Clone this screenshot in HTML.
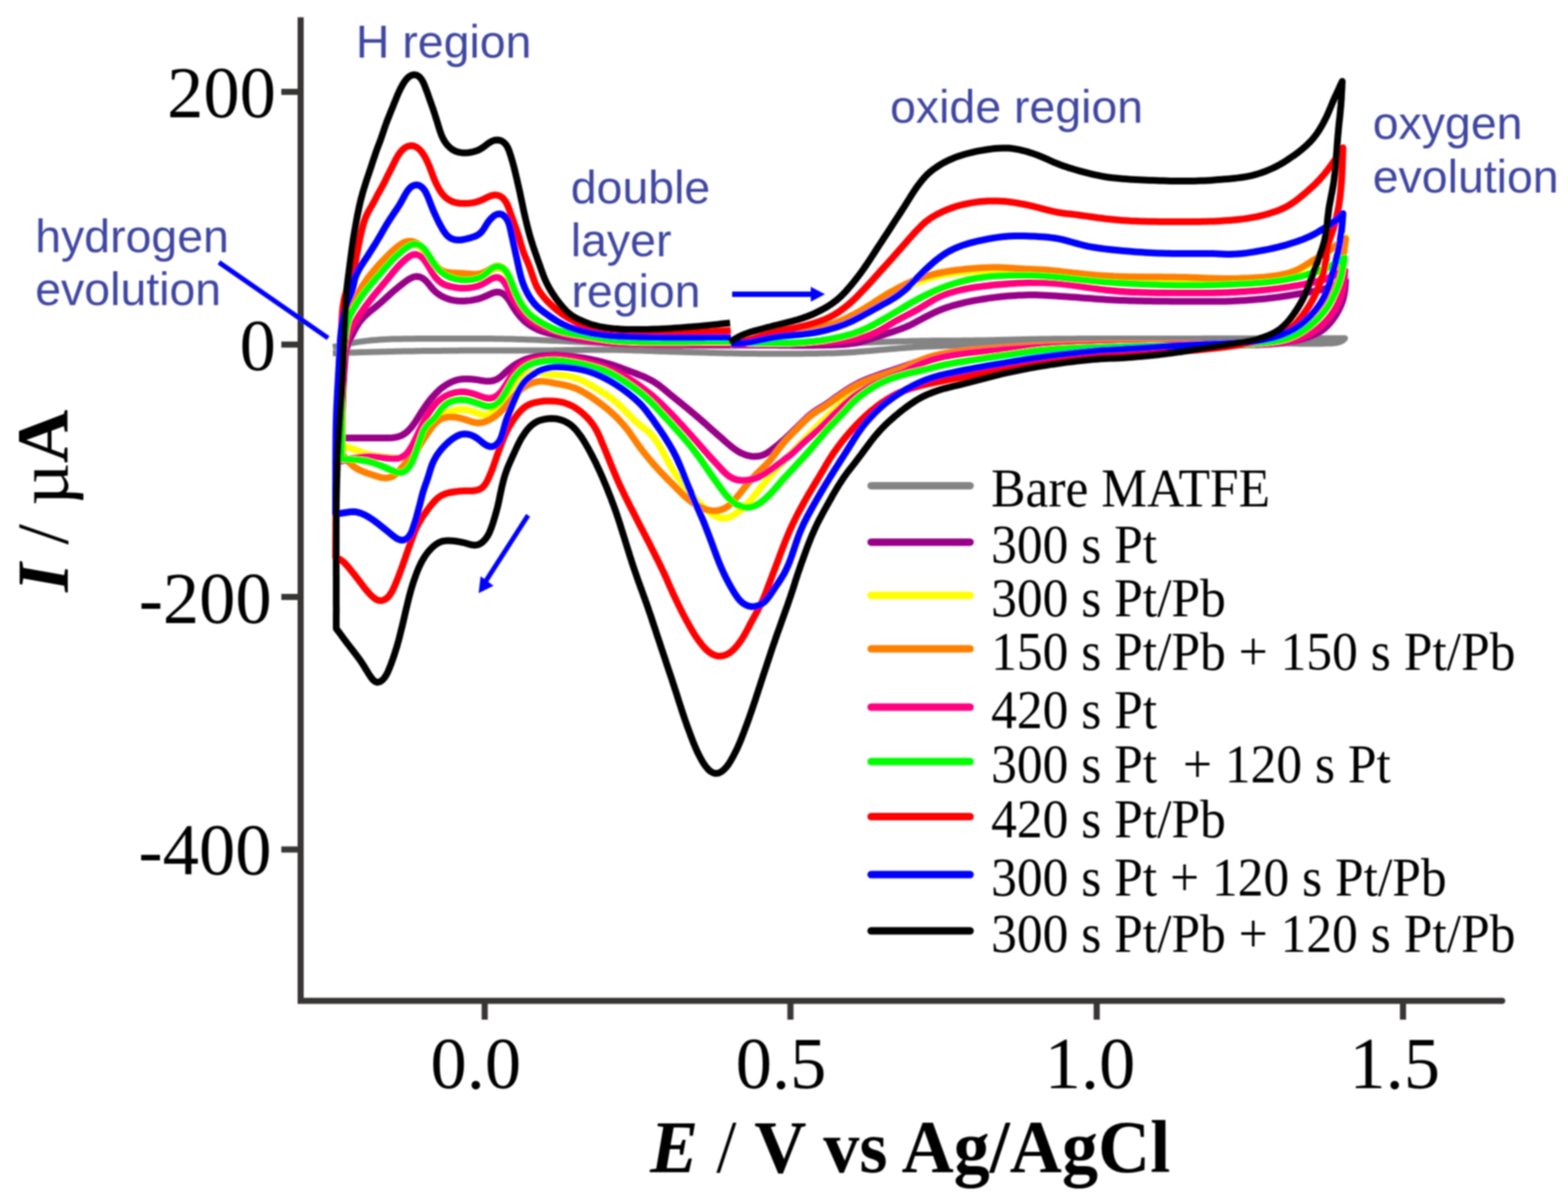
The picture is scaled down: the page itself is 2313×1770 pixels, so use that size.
<!DOCTYPE html>
<html><head><meta charset="utf-8"><title>CV</title>
<style>
html,body{margin:0;padding:0;background:#fff;}
body{width:2313px;height:1770px;overflow:hidden;position:relative;}
svg{position:absolute;left:0;top:0;}
.tk{font-family:"Liberation Serif","Times New Roman",serif;font-size:107px;fill:#000;}
.lg{font-family:"Liberation Serif","Times New Roman",serif;font-size:76px;fill:#000;}
.an{font-family:"Liberation Sans",Arial,sans-serif;font-size:68.5px;fill:#3f47a1;}
.ti{font-family:"Liberation Serif","Times New Roman",serif;font-size:109px;font-weight:bold;fill:#000;}
</style></head><body>
<svg width="2313" height="1770" viewBox="0 0 2313 1770" xmlns="http://www.w3.org/2000/svg">
<defs><filter id="bl"><feGaussianBlur stdDeviation="0.9"/></filter></defs>
<rect width="2313" height="1770" fill="#fff"/>
<g filter="url(#bl)">
<g stroke="#393536" stroke-width="9" fill="none">
<path d="M443.5,25.5 L443.5,1476.3 L2216,1476.3" stroke-linejoin="miter"/>
<circle cx="2216" cy="1476.3" r="4.5" fill="#393536" stroke="none"/>
<path d="M415,135.5 H443 M415,508.2 H443 M415,880.6 H443 M415,1253 H443"/>
<path d="M715,1476 V1504 M1166,1476 V1504 M1617.8,1476 V1504 M2069.6,1476 V1504"/>
</g>
<text class="tk" x="407" y="173" text-anchor="end">200</text>
<text class="tk" x="407" y="546" text-anchor="end">0</text>
<text class="tk" x="400.8" y="918.5" text-anchor="end">-200</text>
<text class="tk" x="400.5" y="1289.5" text-anchor="end">-400</text>
<text class="tk" x="701.8" y="1605" text-anchor="middle">0.0</text>
<text class="tk" x="1152" y="1605" text-anchor="middle">0.5</text>
<text class="tk" x="1607.8" y="1605" text-anchor="middle">1.0</text>
<text class="tk" x="2057.4" y="1605" text-anchor="middle">1.5</text>
<text class="ti" style="font-size:106.5px" transform="translate(959,1729) scale(1,1.035)"><tspan font-style="italic">E</tspan><tspan font-weight="normal"> / </tspan>V vs Ag/AgCl</text>
<text class="ti" transform="translate(100,873) rotate(-90)"><tspan font-style="italic">I</tspan><tspan font-weight="normal"> / &#181;</tspan>A</text>
<path d="M491.0,512.0 L495.9,510.9 L500.7,509.7 L505.6,508.6 L510.5,507.5 L515.4,506.6 L520.3,505.7 L525.3,504.9 L530.2,504.1 L535.2,503.5 L540.1,502.9 L545.1,502.3 L550.1,501.8 L555.1,501.4 L560.0,501.1 L565.0,500.8 L570.0,500.5 L575.0,500.3 L580.0,500.1 L585.0,500.0 L590.0,499.9 L595.0,499.8 L600.0,499.7 L605.0,499.7 L610.0,499.7 L615.0,499.6 L620.0,499.6 L625.0,499.6 L630.0,499.6 L635.0,499.6 L640.0,499.5 L645.0,499.5 L650.0,499.5 L655.0,499.5 L660.0,499.4 L665.0,499.4 L670.0,499.4 L675.0,499.4 L680.0,499.4 L685.0,499.4 L690.0,499.4 L695.0,499.4 L700.0,499.4 L705.0,499.4 L710.0,499.5 L715.0,499.5 L720.0,499.5 L725.0,499.6 L730.1,499.7 L735.1,499.7 L740.1,499.8 L745.1,499.9 L750.1,500.0 L755.1,500.1 L760.1,500.3 L765.0,500.4 L770.0,500.6 L775.0,500.7 L780.0,500.9 L785.0,501.1 L790.0,501.3 L795.0,501.5 L800.0,501.7 L805.0,501.9 L810.0,502.2 L815.0,502.4 L820.0,502.6 L825.0,502.8 L830.0,503.1 L835.0,503.3 L840.0,503.5 L845.0,503.8 L850.0,504.0 L855.0,504.2 L860.0,504.5 L865.0,504.7 L870.0,505.0 L875.0,505.3 L880.0,505.6 L885.0,505.8 L889.9,506.1 L894.9,506.4 L899.9,506.7 L904.9,507.0 L909.9,507.2 L914.9,507.5 L919.9,507.7 L924.9,508.0 L929.9,508.2 L934.9,508.4 L939.9,508.6 L944.9,508.8 L949.9,509.0 L954.9,509.1 L959.9,509.3 L964.9,509.4 L969.9,509.5 L974.9,509.6 L979.9,509.6 L984.9,509.7 L989.9,509.8 L994.9,509.8 L999.9,509.9 L1004.9,509.9 L1009.9,509.9 L1014.9,510.0 L1019.9,510.0 L1024.9,510.0 L1029.9,510.0 L1034.9,510.0 L1039.9,510.0 L1044.9,510.0 L1049.9,510.0 L1054.9,510.0 L1059.9,510.0 L1064.9,510.0 L1069.9,510.0 L1074.9,509.9 L1079.9,509.9 L1084.9,509.9 L1089.9,509.8 L1094.9,509.8 L1099.9,509.7 L1104.9,509.7 L1109.9,509.6 L1114.9,509.6 L1119.9,509.5 L1124.9,509.4 L1129.9,509.4 L1134.9,509.3 L1139.9,509.2 L1144.9,509.1 L1149.9,509.0 L1154.9,508.9 L1159.9,508.8 L1164.9,508.7 L1169.9,508.5 L1174.9,508.4 L1179.9,508.2 L1184.9,508.1 L1189.9,507.9 L1194.9,507.8 L1199.9,507.6 L1204.9,507.5 L1209.9,507.3 L1214.9,507.1 L1219.9,507.0 L1224.9,506.8 L1229.9,506.6 L1234.9,506.5 L1239.9,506.3 L1244.9,506.2 L1249.9,506.0 L1254.9,505.8 L1259.9,505.7 L1264.9,505.5 L1269.9,505.4 L1274.9,505.2 L1279.9,505.0 L1284.9,504.9 L1289.9,504.7 L1294.9,504.5 L1299.9,504.4 L1304.9,504.2 L1309.9,504.1 L1314.9,503.9 L1319.9,503.8 L1324.9,503.6 L1329.9,503.5 L1334.9,503.4 L1339.9,503.2 L1344.9,503.1 L1349.9,503.0 L1354.9,502.9 L1359.9,502.8 L1364.9,502.8 L1369.9,502.7 L1374.9,502.6 L1379.9,502.6 L1384.9,502.6 L1389.9,502.5 L1394.9,502.5 L1399.9,502.4 L1404.9,502.4 L1409.9,502.4 L1414.9,502.4 L1419.9,502.3 L1424.9,502.3 L1429.9,502.2 L1434.9,502.2 L1439.9,502.1 L1444.9,502.1 L1449.9,502.0 L1454.9,501.9 L1459.9,501.8 L1464.9,501.7 L1469.9,501.6 L1474.9,501.5 L1479.9,501.3 L1484.9,501.2 L1489.9,501.1 L1494.9,500.9 L1499.9,500.8 L1504.9,500.7 L1509.9,500.6 L1514.9,500.5 L1519.9,500.3 L1524.9,500.2 L1529.9,500.2 L1534.9,500.1 L1539.9,500.0 L1544.9,499.9 L1549.9,499.9 L1554.9,499.8 L1559.9,499.8 L1564.9,499.8 L1569.9,499.7 L1574.9,499.7 L1579.9,499.7 L1584.9,499.7 L1589.9,499.6 L1594.9,499.6 L1599.9,499.6 L1604.9,499.6 L1609.9,499.6 L1614.9,499.6 L1619.9,499.6 L1624.9,499.6 L1629.9,499.6 L1634.9,499.6 L1639.9,499.6 L1644.9,499.6 L1649.9,499.6 L1654.9,499.6 L1659.9,499.6 L1664.9,499.6 L1669.9,499.5 L1674.9,499.5 L1679.9,499.5 L1684.9,499.5 L1689.9,499.5 L1694.9,499.5 L1699.9,499.5 L1704.9,499.5 L1709.9,499.5 L1714.9,499.5 L1719.9,499.5 L1724.9,499.4 L1729.9,499.4 L1734.9,499.4 L1739.9,499.4 L1744.9,499.4 L1749.9,499.4 L1754.9,499.4 L1759.9,499.4 L1764.9,499.4 L1769.9,499.4 L1775.0,499.3 L1780.0,499.3 L1785.0,499.3 L1790.0,499.3 L1795.0,499.3 L1800.0,499.3 L1805.0,499.3 L1810.0,499.3 L1815.0,499.3 L1820.0,499.3 L1825.0,499.3 L1830.0,499.2 L1835.0,499.2 L1840.0,499.2 L1845.0,499.2 L1850.0,499.2 L1855.0,499.2 L1860.0,499.2 L1865.0,499.2 L1870.0,499.2 L1875.0,499.2 L1880.0,499.2 L1885.0,499.2 L1890.0,499.2 L1895.0,499.1 L1900.0,499.1 L1905.0,499.1 L1910.0,499.1 L1915.0,499.1 L1920.0,499.1 L1925.0,499.1 L1930.0,499.1 L1935.0,499.1 L1940.0,499.1 L1945.0,499.1 L1950.0,499.1 L1955.0,499.0 L1960.0,499.0 L1965.0,499.0 L1970.0,499.0 L1975.0,499.0 L1980.0,499.0 L1984.0,499.0 L1981.2,501.9 L1977.7,504.0 L1973.4,505.3 L1968.5,506.0 L1963.6,506.4 L1958.6,506.6 L1953.6,506.8 L1948.6,506.9 L1943.6,507.0 L1938.6,507.0 L1933.6,507.0 L1928.6,507.0 L1923.6,506.9 L1918.6,506.9 L1913.6,506.8 L1908.6,506.7 L1903.6,506.6 L1898.6,506.5 L1893.6,506.4 L1888.6,506.3 L1883.6,506.2 L1878.6,506.1 L1873.6,506.0 L1868.6,505.9 L1863.6,505.8 L1858.6,505.7 L1853.6,505.6 L1848.6,505.5 L1843.6,505.4 L1838.6,505.3 L1833.6,505.2 L1828.6,505.1 L1823.6,505.1 L1818.6,505.0 L1813.6,505.0 L1808.6,505.0 L1803.6,505.0 L1798.6,505.0 L1793.6,505.0 L1788.6,505.1 L1783.6,505.1 L1778.6,505.1 L1773.6,505.1 L1768.6,505.2 L1763.6,505.2 L1758.6,505.2 L1753.6,505.2 L1748.6,505.2 L1743.6,505.2 L1738.6,505.2 L1733.6,505.2 L1728.6,505.2 L1723.6,505.2 L1718.6,505.2 L1713.6,505.3 L1708.6,505.3 L1703.6,505.3 L1698.6,505.3 L1693.6,505.3 L1688.6,505.3 L1683.6,505.3 L1678.6,505.3 L1673.6,505.3 L1668.6,505.3 L1663.6,505.3 L1658.6,505.3 L1653.6,505.3 L1648.6,505.3 L1643.6,505.3 L1638.6,505.3 L1633.6,505.3 L1628.6,505.3 L1623.6,505.3 L1618.6,505.3 L1613.6,505.4 L1608.6,505.4 L1603.6,505.4 L1598.6,505.4 L1593.6,505.4 L1588.6,505.5 L1583.6,505.5 L1578.6,505.5 L1573.6,505.6 L1568.6,505.6 L1563.6,505.7 L1558.6,505.7 L1553.6,505.8 L1548.6,505.9 L1543.6,505.9 L1538.6,506.0 L1533.6,506.1 L1528.6,506.3 L1523.6,506.4 L1518.6,506.5 L1513.6,506.7 L1508.6,506.8 L1503.6,507.0 L1498.6,507.2 L1493.6,507.4 L1488.6,507.6 L1483.6,507.8 L1478.6,508.0 L1473.6,508.2 L1468.6,508.4 L1463.6,508.6 L1458.6,508.7 L1453.6,508.9 L1448.6,509.0 L1443.6,509.1 L1438.6,509.2 L1433.6,509.3 L1428.6,509.4 L1423.6,509.5 L1418.6,509.6 L1413.6,509.7 L1408.6,509.8 L1403.6,509.9 L1398.6,510.1 L1393.6,510.2 L1388.6,510.4 L1383.6,510.5 L1378.6,510.7 L1373.6,510.9 L1368.6,511.1 L1363.6,511.3 L1358.6,511.5 L1353.6,511.8 L1348.6,512.1 L1343.7,512.4 L1338.7,512.8 L1333.7,513.2 L1328.7,513.6 L1323.7,514.0 L1318.7,514.4 L1313.7,514.8 L1308.8,515.3 L1303.8,515.7 L1298.8,516.1 L1293.8,516.5 L1288.8,516.9 L1283.9,517.4 L1278.9,517.8 L1273.9,518.2 L1268.9,518.6 L1263.9,519.0 L1258.9,519.4 L1253.9,519.7 L1248.9,520.0 L1244.0,520.3 L1239.0,520.5 L1234.0,520.7 L1229.0,520.9 L1224.0,521.0 L1219.0,521.1 L1214.0,521.3 L1209.0,521.3 L1204.0,521.4 L1199.0,521.5 L1194.0,521.6 L1189.0,521.6 L1184.0,521.7 L1179.0,521.7 L1174.0,521.7 L1169.0,521.8 L1164.0,521.8 L1159.0,521.8 L1154.0,521.8 L1149.0,521.8 L1144.0,521.8 L1139.0,521.8 L1134.0,521.8 L1129.0,521.7 L1124.0,521.7 L1119.0,521.7 L1114.0,521.6 L1109.0,521.6 L1104.0,521.5 L1099.0,521.5 L1094.0,521.4 L1089.0,521.3 L1084.0,521.2 L1079.0,521.1 L1074.0,521.0 L1069.0,520.9 L1064.0,520.8 L1059.0,520.7 L1054.0,520.5 L1049.0,520.4 L1044.0,520.3 L1039.0,520.1 L1034.0,520.0 L1029.0,519.8 L1024.0,519.7 L1019.0,519.5 L1014.0,519.4 L1009.0,519.3 L1004.0,519.1 L999.0,519.0 L994.0,518.8 L989.0,518.7 L984.0,518.5 L979.0,518.3 L974.0,518.2 L969.0,518.0 L964.0,517.8 L959.0,517.6 L954.0,517.4 L949.0,517.3 L944.0,517.1 L939.0,516.9 L934.0,516.8 L929.0,516.6 L924.0,516.5 L919.0,516.3 L914.0,516.2 L909.0,516.1 L904.0,516.1 L899.0,516.0 L894.0,516.0 L889.0,516.0 L884.0,516.0 L879.0,516.0 L874.0,516.0 L869.0,516.1 L864.0,516.1 L859.0,516.2 L854.0,516.3 L849.0,516.3 L844.0,516.4 L839.0,516.5 L834.0,516.6 L829.0,516.7 L824.0,516.7 L819.0,516.8 L814.0,516.9 L809.0,516.9 L804.0,517.0 L799.0,517.0 L794.0,517.0 L789.0,517.0 L784.0,517.0 L779.0,517.0 L774.0,517.0 L769.0,517.0 L764.0,517.0 L759.0,517.0 L754.0,517.0 L749.0,517.0 L744.0,517.0 L739.0,517.0 L734.0,517.0 L729.0,517.0 L724.0,517.0 L719.0,517.0 L714.0,517.0 L709.0,517.0 L704.0,517.0 L699.0,517.0 L694.0,517.0 L689.0,517.1 L684.0,517.1 L679.0,517.1 L674.0,517.2 L669.0,517.2 L664.0,517.2 L659.0,517.3 L654.0,517.3 L649.0,517.4 L644.0,517.4 L639.0,517.5 L634.0,517.5 L629.0,517.6 L624.0,517.6 L619.0,517.7 L614.0,517.8 L609.0,517.9 L604.0,517.9 L599.0,518.0 L594.0,518.1 L589.0,518.2 L584.0,518.3 L579.0,518.4 L574.0,518.5 L569.0,518.7 L564.0,518.8 L559.0,518.9 L554.0,519.0 L549.0,519.2 L544.0,519.3 L539.0,519.5 L534.0,519.6 L529.0,519.7 L524.0,519.9 L519.0,520.0 L514.0,520.2 L509.0,520.4 L504.0,520.5 L499.0,520.7 L494.0,520.9 L491.0,521.0" fill="none" stroke="#848484" stroke-width="9" stroke-linejoin="round" stroke-linecap="butt"/>
<path d="M1080.0,509.0 L1085.0,508.9 L1090.0,508.9 L1095.0,508.9 L1100.0,508.9 L1105.0,508.8 L1110.0,508.9 L1115.0,508.9 L1120.0,508.9 L1125.0,508.9 L1130.0,509.0 L1135.0,509.0 L1140.0,509.1 L1145.0,509.1 L1150.0,509.2 L1155.0,509.2 L1160.0,509.3 L1165.0,509.3 L1170.0,509.4 L1175.0,509.4 L1180.0,509.4 L1185.0,509.4 L1190.1,509.4 L1195.1,509.4 L1200.1,509.4 L1205.1,509.3 L1210.1,509.3 L1215.1,509.2 L1220.1,509.1 L1225.1,508.9 L1230.1,508.7 L1235.1,508.5 L1240.1,508.2 L1245.0,507.9 L1250.0,507.5 L1255.0,506.9 L1260.0,506.3 L1264.9,505.5 L1269.8,504.6 L1274.7,503.4 L1279.5,502.1 L1284.2,500.6 L1289.0,498.9 L1293.7,497.2 L1298.4,495.5 L1303.1,493.9 L1307.8,492.3 L1312.6,490.7 L1317.3,489.2 L1322.1,487.6 L1326.8,485.9 L1331.5,484.2 L1336.1,482.4 L1340.7,480.4 L1345.2,478.2 L1349.6,475.9 L1354.0,473.5 L1358.4,471.1 L1362.8,468.8 L1367.3,466.5 L1371.7,464.2 L1376.2,462.0 L1380.7,459.9 L1385.3,457.9 L1390.0,456.0 L1394.7,454.3 L1399.4,452.7 L1404.2,451.2 L1409.0,449.9 L1413.8,448.6 L1418.7,447.4 L1423.5,446.2 L1428.4,445.2 L1433.3,444.2 L1438.2,443.2 L1443.2,442.3 L1448.1,441.5 L1453.0,440.7 L1458.0,439.9 L1462.9,439.3 L1467.9,438.6 L1472.9,438.0 L1477.8,437.5 L1482.8,437.0 L1487.8,436.6 L1492.8,436.2 L1497.8,435.9 L1502.8,435.6 L1507.8,435.4 L1512.8,435.2 L1517.8,435.1 L1522.8,435.1 L1527.8,435.1 L1532.8,435.2 L1537.8,435.4 L1542.8,435.7 L1547.8,436.0 L1552.8,436.3 L1557.7,436.6 L1562.7,436.9 L1567.7,437.2 L1572.7,437.5 L1577.7,437.9 L1582.7,438.2 L1587.7,438.6 L1592.7,439.0 L1597.7,439.4 L1602.7,439.8 L1607.6,440.1 L1612.6,440.5 L1617.6,440.9 L1622.6,441.2 L1627.6,441.5 L1632.6,441.9 L1637.6,442.2 L1642.6,442.4 L1647.6,442.7 L1652.6,442.9 L1657.6,443.1 L1662.6,443.3 L1667.6,443.4 L1672.6,443.6 L1677.6,443.7 L1682.6,443.8 L1687.6,443.9 L1692.6,444.0 L1697.6,444.1 L1702.6,444.2 L1707.6,444.2 L1712.6,444.3 L1717.6,444.3 L1722.6,444.3 L1727.6,444.4 L1732.6,444.4 L1737.6,444.4 L1742.6,444.4 L1747.6,444.5 L1752.6,444.5 L1757.6,444.5 L1762.6,444.5 L1767.6,444.5 L1772.6,444.5 L1777.6,444.5 L1782.6,444.6 L1787.6,444.6 L1792.6,444.6 L1797.6,444.5 L1802.6,444.5 L1807.6,444.4 L1812.6,444.2 L1817.6,444.1 L1822.6,443.8 L1827.6,443.6 L1832.6,443.3 L1837.6,442.9 L1842.6,442.6 L1847.6,442.2 L1852.6,441.8 L1857.5,441.3 L1862.5,440.9 L1867.5,440.4 L1872.5,439.8 L1877.4,439.3 L1882.4,438.6 L1887.4,438.0 L1892.3,437.3 L1897.3,436.5 L1902.2,435.7 L1907.1,434.9 L1912.1,434.0 L1917.0,433.2 L1921.9,432.4 L1926.9,431.6 L1931.8,430.7 L1936.7,429.9 L1941.6,429.0 L1946.5,428.0 L1951.4,426.8 L1956.2,425.4 L1960.9,423.8 L1965.6,422.1 L1970.3,420.2 L1974.9,418.3 L1979.5,416.3 L1984.1,414.4 L1985.0,414.0 L1984.6,419.0 L1984.2,424.0 L1983.7,428.9 L1982.9,433.9 L1981.9,438.7 L1980.6,443.5 L1978.9,448.2 L1977.0,452.8 L1974.8,457.3 L1972.4,461.7 L1969.8,465.9 L1967.0,470.0 L1963.9,474.0 L1960.7,477.8 L1957.2,481.4 L1953.6,484.7 L1949.6,487.8 L1945.5,490.5 L1941.1,492.9 L1936.6,495.0 L1932.0,496.9 L1927.3,498.6 L1922.5,500.1 L1917.7,501.4 L1912.9,502.6 L1908.0,503.6 L1903.0,504.4 L1898.1,505.1 L1893.1,505.7 L1888.2,506.2 L1883.2,506.7 L1878.2,507.1 L1873.2,507.5 L1868.2,507.8 L1863.2,508.0 L1858.2,508.2 L1853.2,508.4 L1848.2,508.5 L1843.2,508.6 L1838.2,508.7 L1833.2,508.8 L1828.2,508.9 L1823.2,508.9 L1818.2,509.0 L1813.2,509.1 L1808.2,509.1 L1803.2,509.2 L1798.2,509.2 L1793.2,509.2 L1788.2,509.3 L1783.2,509.3 L1778.2,509.3 L1773.2,509.3 L1768.2,509.3 L1763.2,509.3 L1758.2,509.2 L1753.2,509.2 L1748.2,509.2 L1743.2,509.2 L1738.2,509.2 L1733.2,509.1 L1728.2,509.1 L1723.2,509.1 L1718.2,509.1 L1713.2,509.1 L1708.2,509.0 L1703.2,509.0 L1698.2,509.0 L1693.2,509.0 L1688.2,508.9 L1683.2,508.9 L1678.2,508.8 L1673.2,508.7 L1668.2,508.6 L1663.2,508.6 L1658.2,508.5 L1653.2,508.4 L1648.2,508.4 L1643.2,508.4 L1638.2,508.4 L1633.2,508.4 L1628.2,508.4 L1623.2,508.5 L1618.2,508.5 L1613.2,508.6 L1608.2,508.7 L1603.2,508.9 L1598.2,509.0 L1593.2,509.1 L1588.2,509.2 L1583.2,509.4 L1578.2,509.5 L1573.2,509.7 L1568.2,509.9 L1563.2,510.0 L1558.2,510.2 L1553.2,510.4 L1548.2,510.6 L1543.2,510.9 L1538.2,511.1 L1533.3,511.3 L1528.3,511.6 L1523.3,511.8 L1518.3,512.1 L1513.3,512.4 L1508.3,512.7 L1503.3,513.0 L1498.3,513.3 L1493.3,513.7 L1488.3,514.1 L1483.3,514.4 L1478.4,514.8 L1473.4,515.2 L1468.4,515.6 L1463.4,516.0 L1458.4,516.4 L1453.4,516.8 L1448.4,517.2 L1443.5,517.6 L1438.5,518.1 L1433.5,518.6 L1428.5,519.1 L1423.6,519.6 L1418.6,520.2 L1413.6,520.7 L1408.7,521.4 L1403.7,522.0 L1398.8,522.8 L1393.8,523.5 L1388.9,524.4 L1384.0,525.3 L1379.1,526.3 L1374.2,527.4 L1369.4,528.6 L1364.5,530.0 L1359.8,531.4 L1355.0,532.9 L1350.3,534.5 L1345.5,536.2 L1340.8,537.8 L1336.1,539.5 L1331.4,541.1 L1326.7,542.8 L1321.9,544.3 L1317.2,545.9 L1312.4,547.5 L1307.7,549.0 L1302.9,550.6 L1298.2,552.2 L1293.5,553.9 L1288.8,555.6 L1284.1,557.3 L1279.4,559.2 L1274.8,561.1 L1270.3,563.1 L1265.8,565.3 L1261.3,567.6 L1257.0,570.0 L1252.7,572.6 L1248.5,575.3 L1244.3,578.1 L1240.2,580.9 L1236.1,583.8 L1232.0,586.7 L1228.0,589.6 L1223.9,592.5 L1219.8,595.3 L1215.6,598.1 L1211.3,600.7 L1207.1,603.3 L1202.9,606.0 L1198.8,608.8 L1194.9,611.9 L1191.1,615.2 L1187.5,618.6 L1183.9,622.1 L1180.4,625.7 L1176.8,629.2 L1173.2,632.7 L1169.6,636.2 L1166.0,639.6 L1162.4,643.1 L1158.8,646.5 L1155.0,649.8 L1151.3,653.1 L1147.4,656.3 L1143.5,659.4 L1139.6,662.5 L1135.6,665.5 L1131.5,668.3 L1127.1,670.5 L1122.5,672.1 L1117.7,673.1 L1112.8,673.3 L1107.9,672.9 L1103.1,671.9 L1098.4,670.4 L1093.8,668.5 L1089.4,666.2 L1085.2,663.6 L1081.2,660.6 L1077.3,657.5 L1073.5,654.3 L1069.7,651.0 L1066.0,647.6 L1062.2,644.3 L1058.5,641.1 L1054.7,637.7 L1051.0,634.4 L1047.2,631.1 L1043.5,627.8 L1039.8,624.4 L1036.0,621.1 L1032.2,617.8 L1028.5,614.6 L1024.6,611.3 L1020.8,608.1 L1017.0,604.9 L1013.1,601.7 L1009.3,598.6 L1005.4,595.4 L1001.5,592.2 L997.6,589.1 L993.7,585.9 L989.9,582.8 L986.0,579.6 L982.2,576.4 L978.3,573.2 L974.4,570.1 L970.4,567.1 L966.3,564.3 L962.0,561.7 L957.6,559.4 L953.1,557.2 L948.5,555.2 L943.9,553.3 L939.3,551.5 L934.6,549.7 L929.9,547.9 L925.2,546.1 L920.6,544.4 L915.9,542.6 L911.2,541.0 L906.4,539.3 L901.7,537.8 L896.9,536.4 L892.1,535.0 L887.2,533.7 L882.4,532.5 L877.5,531.4 L872.6,530.4 L867.7,529.4 L862.8,528.5 L857.9,527.7 L852.9,526.9 L848.0,526.2 L843.0,525.6 L838.1,525.0 L833.1,524.5 L828.1,524.1 L823.1,523.8 L818.1,523.6 L813.1,523.7 L808.1,523.9 L803.2,524.3 L798.2,524.8 L793.3,525.5 L788.3,526.4 L783.5,527.6 L778.7,529.0 L774.0,530.6 L769.4,532.6 L765.0,534.9 L760.7,537.4 L756.6,540.2 L752.6,543.2 L748.8,546.4 L745.1,549.8 L741.5,553.2 L737.7,556.4 L733.7,559.1 L729.3,561.0 L724.6,562.0 L719.7,562.3 L714.8,561.9 L709.8,561.2 L704.9,560.4 L700.0,559.8 L695.0,559.3 L690.0,559.0 L685.1,559.0 L680.1,559.3 L675.3,560.2 L670.5,561.6 L665.9,563.5 L661.5,565.7 L657.2,568.3 L653.1,571.1 L649.2,574.2 L645.6,577.6 L642.1,581.1 L638.7,584.8 L635.4,588.6 L632.3,592.5 L629.3,596.5 L626.5,600.6 L623.7,604.7 L621.0,609.0 L618.4,613.2 L615.7,617.5 L613.0,621.7 L610.2,625.8 L607.2,629.8 L603.9,633.5 L600.4,637.0 L596.5,640.0 L592.3,642.3 L587.7,644.1 L582.9,645.2 L578.0,645.8 L573.0,646.1 L568.0,646.1 L563.0,646.1 L558.0,646.1 L553.0,646.0 L548.0,646.0 L543.0,646.1 L538.0,646.1 L533.0,646.1 L528.0,646.1 L523.0,646.1 L518.0,646.0 L513.0,646.0 L508.0,646.0 L504.0,646.0 L504.2,641.0 L504.3,636.0 L504.5,631.0 L504.6,626.0 L504.7,621.0 L504.9,616.0 L505.0,611.0 L505.1,606.0 L505.3,601.0 L505.4,596.0 L505.6,591.0 L505.8,586.0 L505.9,581.0 L506.2,576.0 L506.4,571.0 L506.7,566.0 L506.9,561.0 L507.2,556.0 L507.5,551.0 L507.9,546.0 L508.2,541.1 L508.5,536.1 L508.9,531.1 L509.4,526.1 L510.1,521.2 L510.9,516.2 L512.1,511.4 L513.6,506.7 L515.4,502.1 L517.6,497.6 L519.9,493.1 L522.2,488.7 L524.6,484.3 L527.1,480.0 L529.8,475.8 L532.8,471.9 L536.1,468.2 L539.7,464.7 L543.4,461.4 L547.3,458.2 L551.2,455.1 L555.1,451.9 L558.9,448.7 L562.7,445.5 L566.4,442.1 L570.1,438.7 L573.8,435.4 L577.5,432.0 L581.3,428.8 L585.2,425.6 L589.0,422.4 L593.0,419.3 L596.9,416.2 L600.9,413.3 L605.1,410.7 L609.5,408.7 L614.0,407.8 L618.5,408.2 L622.8,410.0 L626.7,412.8 L630.1,416.2 L633.3,420.0 L636.3,423.9 L639.6,427.7 L643.2,431.1 L647.1,434.1 L651.3,436.7 L655.7,438.9 L660.4,440.7 L665.1,442.1 L670.0,443.1 L674.9,443.7 L679.9,443.9 L684.9,443.9 L689.9,443.6 L694.8,443.1 L699.7,442.2 L704.6,441.1 L709.4,439.7 L714.0,437.9 L718.6,435.9 L723.1,433.8 L727.6,431.9 L732.1,430.8 L736.6,431.0 L740.8,432.5 L744.6,435.3 L747.9,438.8 L750.9,442.8 L753.5,447.0 L756.1,451.3 L758.7,455.5 L761.5,459.7 L764.5,463.6 L767.7,467.5 L771.1,471.1 L774.7,474.6 L778.6,477.7 L782.7,480.5 L786.9,483.1 L791.4,485.3 L796.0,487.3 L800.6,489.0 L805.4,490.5 L810.2,491.8 L815.1,493.0 L820.0,494.1 L824.8,495.2 L829.7,496.3 L834.6,497.3 L839.5,498.3 L844.4,499.3 L849.3,500.2 L854.3,501.0 L859.2,501.8 L864.2,502.5 L869.1,503.2 L874.1,503.8 L879.1,504.4 L884.0,504.9 L889.0,505.3 L894.0,505.7 L899.0,506.1 L904.0,506.4 L909.0,506.7 L914.0,507.0 L919.0,507.3 L924.0,507.5 L929.0,507.6 L934.0,507.8 L939.0,507.9 L944.0,508.0 L949.0,508.1 L954.0,508.2 L959.0,508.3 L964.0,508.3 L969.0,508.4 L974.0,508.4 L979.0,508.5 L984.0,508.5 L989.0,508.5 L994.0,508.6 L999.0,508.6 L1004.0,508.6 L1009.0,508.6 L1014.0,508.6 L1019.0,508.7 L1024.0,508.7 L1029.0,508.7 L1034.0,508.7 L1039.0,508.7 L1044.0,508.7 L1049.0,508.8 L1054.0,508.8 L1059.0,508.8 L1064.0,508.9 L1069.0,508.9 L1074.0,509.0 L1078.0,509.0" fill="none" stroke="#990088" stroke-width="10" stroke-linejoin="round" stroke-linecap="butt"/>
<path d="M1080.0,507.0 L1084.9,506.2 L1089.9,505.4 L1094.8,504.7 L1099.8,503.9 L1104.7,503.2 L1109.7,502.5 L1114.6,501.8 L1119.6,501.1 L1124.5,500.4 L1129.5,499.7 L1134.5,499.0 L1139.4,498.3 L1144.4,497.6 L1149.3,496.9 L1154.3,496.2 L1159.2,495.5 L1164.2,494.7 L1169.1,494.0 L1174.1,493.2 L1179.0,492.4 L1183.9,491.5 L1188.9,490.6 L1193.8,489.7 L1198.7,488.8 L1203.6,487.7 L1208.4,486.6 L1213.3,485.4 L1218.1,484.1 L1222.9,482.7 L1227.7,481.2 L1232.4,479.6 L1237.1,477.8 L1241.8,476.0 L1246.3,474.0 L1250.9,471.9 L1255.4,469.7 L1259.9,467.5 L1264.3,465.2 L1268.8,462.9 L1273.1,460.5 L1277.5,458.0 L1281.7,455.4 L1286.0,452.8 L1290.2,450.1 L1294.5,447.4 L1298.7,444.8 L1303.0,442.2 L1307.3,439.6 L1311.6,437.1 L1316.0,434.7 L1320.4,432.3 L1324.8,429.9 L1329.2,427.6 L1333.7,425.4 L1338.2,423.2 L1342.8,421.1 L1347.3,419.1 L1352.0,417.2 L1356.6,415.3 L1361.3,413.6 L1366.0,411.9 L1370.8,410.4 L1375.6,409.0 L1380.4,407.8 L1385.3,406.7 L1390.2,405.7 L1395.1,404.8 L1400.1,404.0 L1405.0,403.3 L1410.0,402.7 L1414.9,402.1 L1419.9,401.5 L1424.9,400.9 L1429.9,400.4 L1434.8,399.9 L1439.8,399.5 L1444.8,399.1 L1449.8,398.8 L1454.8,398.5 L1459.8,398.3 L1464.8,398.1 L1469.8,398.1 L1474.8,398.0 L1479.8,398.1 L1484.8,398.1 L1489.8,398.3 L1494.8,398.4 L1499.8,398.6 L1504.8,398.8 L1509.8,399.1 L1514.8,399.4 L1519.8,399.7 L1524.8,400.0 L1529.8,400.3 L1534.8,400.6 L1539.8,401.0 L1544.8,401.4 L1549.7,401.8 L1554.7,402.3 L1559.7,402.8 L1564.7,403.3 L1569.6,403.9 L1574.6,404.5 L1579.6,405.0 L1584.6,405.6 L1589.5,406.2 L1594.5,406.7 L1599.5,407.3 L1604.5,407.8 L1609.4,408.3 L1614.4,408.7 L1619.4,409.1 L1624.4,409.5 L1629.4,409.9 L1634.4,410.1 L1639.4,410.4 L1644.4,410.6 L1649.4,410.8 L1654.4,411.0 L1659.4,411.1 L1664.4,411.2 L1669.4,411.3 L1674.4,411.4 L1679.4,411.5 L1684.4,411.5 L1689.4,411.6 L1694.4,411.6 L1699.4,411.7 L1704.4,411.7 L1709.4,411.7 L1714.4,411.7 L1719.4,411.8 L1724.4,411.8 L1729.4,411.8 L1734.4,411.9 L1739.4,411.9 L1744.4,412.0 L1749.4,412.1 L1754.4,412.2 L1759.4,412.3 L1764.4,412.4 L1769.4,412.5 L1774.4,412.7 L1779.5,412.8 L1784.5,412.9 L1789.5,413.0 L1794.5,413.1 L1799.5,413.1 L1804.5,413.1 L1809.5,413.1 L1814.5,413.1 L1819.5,413.0 L1824.5,412.9 L1829.5,412.7 L1834.5,412.5 L1839.5,412.3 L1844.5,412.1 L1849.5,411.8 L1854.5,411.5 L1859.5,411.1 L1864.4,410.7 L1869.4,410.2 L1874.4,409.7 L1879.3,409.0 L1884.3,408.3 L1889.2,407.4 L1894.1,406.4 L1899.0,405.3 L1903.8,403.9 L1908.5,402.2 L1913.1,400.3 L1917.5,398.1 L1921.9,395.6 L1926.1,393.0 L1930.4,390.3 L1934.6,387.7 L1938.8,385.0 L1943.1,382.3 L1947.3,379.6 L1951.5,376.9 L1955.6,374.0 L1959.6,371.1 L1963.6,368.1 L1967.5,364.9 L1971.3,361.7 L1975.1,358.5 L1978.9,355.2 L1982.7,352.0 L1985.0,350.0 L1984.4,355.0 L1983.8,359.9 L1983.2,364.9 L1982.5,369.8 L1981.8,374.8 L1981.0,379.7 L1980.2,384.7 L1979.4,389.6 L1978.5,394.5 L1977.5,399.4 L1976.5,404.3 L1975.3,409.1 L1973.9,413.9 L1972.3,418.7 L1970.4,423.3 L1968.5,427.9 L1966.3,432.4 L1964.0,436.8 L1961.5,441.2 L1958.9,445.4 L1956.1,449.6 L1953.2,453.6 L1950.1,457.5 L1946.8,461.3 L1943.4,464.9 L1939.8,468.4 L1936.0,471.7 L1932.2,474.9 L1928.2,477.9 L1924.2,480.8 L1920.0,483.5 L1915.7,486.1 L1911.4,488.6 L1906.9,490.8 L1902.4,492.9 L1897.7,494.8 L1893.0,496.4 L1888.3,497.9 L1883.5,499.2 L1878.6,500.4 L1873.7,501.4 L1868.8,502.3 L1863.8,503.0 L1858.9,503.7 L1853.9,504.2 L1848.9,504.8 L1844.0,505.2 L1839.0,505.6 L1834.0,506.0 L1829.0,506.4 L1824.0,506.7 L1819.0,507.0 L1814.0,507.3 L1809.0,507.5 L1804.1,507.7 L1799.1,507.9 L1794.1,508.0 L1789.1,508.1 L1784.1,508.1 L1779.1,508.2 L1774.1,508.2 L1769.1,508.2 L1764.1,508.2 L1759.1,508.2 L1754.1,508.2 L1749.1,508.2 L1744.1,508.1 L1739.1,508.1 L1734.1,508.1 L1729.1,508.0 L1724.1,508.0 L1719.1,508.0 L1714.1,508.0 L1709.1,508.0 L1704.1,508.0 L1699.0,508.0 L1694.0,508.0 L1689.0,508.0 L1684.0,508.1 L1679.0,508.1 L1674.0,508.1 L1669.0,508.1 L1664.0,508.1 L1659.0,508.1 L1654.0,508.1 L1649.0,508.1 L1644.0,508.1 L1639.0,508.2 L1634.0,508.2 L1629.0,508.3 L1624.0,508.4 L1619.0,508.5 L1614.0,508.6 L1609.0,508.8 L1604.1,508.9 L1599.1,509.0 L1594.1,509.2 L1589.1,509.3 L1584.1,509.4 L1579.1,509.6 L1574.1,509.7 L1569.1,509.9 L1564.1,510.1 L1559.1,510.2 L1554.1,510.4 L1549.1,510.6 L1544.1,510.8 L1539.1,511.0 L1534.1,511.2 L1529.1,511.5 L1524.1,511.7 L1519.1,512.0 L1514.1,512.3 L1509.1,512.6 L1504.1,512.9 L1499.1,513.3 L1494.2,513.6 L1489.2,514.0 L1484.2,514.4 L1479.2,514.8 L1474.2,515.2 L1469.2,515.5 L1464.2,515.9 L1459.3,516.3 L1454.3,516.7 L1449.3,517.1 L1444.3,517.6 L1439.3,518.0 L1434.4,518.5 L1429.4,519.0 L1424.4,519.6 L1419.4,520.1 L1414.5,520.8 L1409.5,521.4 L1404.6,522.2 L1399.6,523.0 L1394.7,523.9 L1389.8,524.8 L1384.9,525.9 L1380.1,527.1 L1375.3,528.5 L1370.5,530.0 L1365.8,531.7 L1361.2,533.5 L1356.6,535.4 L1352.0,537.4 L1347.5,539.5 L1342.9,541.7 L1338.4,543.8 L1333.8,545.8 L1329.2,547.8 L1324.6,549.7 L1320.0,551.6 L1315.3,553.4 L1310.7,555.2 L1306.0,557.0 L1301.3,558.8 L1296.7,560.7 L1292.1,562.5 L1287.4,564.5 L1282.9,566.5 L1278.3,568.5 L1273.8,570.7 L1269.4,573.1 L1265.1,575.6 L1260.9,578.3 L1256.8,581.2 L1252.9,584.2 L1249.0,587.4 L1245.3,590.7 L1241.6,594.1 L1238.0,597.5 L1234.3,600.9 L1230.7,604.4 L1227.0,607.8 L1223.4,611.2 L1219.7,614.6 L1216.1,618.1 L1212.5,621.6 L1209.0,625.1 L1205.4,628.6 L1201.9,632.1 L1198.4,635.7 L1194.9,639.3 L1191.4,642.9 L1188.0,646.5 L1184.5,650.1 L1181.1,653.8 L1177.7,657.4 L1174.3,661.1 L1170.9,664.8 L1167.5,668.4 L1164.0,672.0 L1160.6,675.6 L1157.1,679.2 L1153.6,682.8 L1150.2,686.4 L1146.7,690.1 L1143.4,693.8 L1140.1,697.6 L1136.8,701.3 L1133.6,705.2 L1130.4,709.0 L1127.2,712.9 L1124.1,716.8 L1120.9,720.6 L1117.8,724.6 L1114.8,728.5 L1111.7,732.4 L1108.5,736.3 L1105.3,740.1 L1101.9,743.8 L1098.3,747.2 L1094.6,750.5 L1090.7,753.7 L1086.7,756.7 L1082.5,759.4 L1078.3,761.9 L1073.9,763.7 L1069.2,764.6 L1064.5,764.3 L1059.8,763.1 L1055.3,761.2 L1051.0,758.8 L1046.9,756.0 L1043.0,752.9 L1039.3,749.6 L1035.7,746.1 L1032.3,742.5 L1028.9,738.8 L1025.6,735.0 L1022.3,731.3 L1019.0,727.5 L1015.7,723.7 L1012.5,719.9 L1009.3,716.0 L1006.2,712.1 L1003.2,708.2 L1000.2,704.2 L997.3,700.1 L994.5,696.0 L991.8,691.8 L989.2,687.5 L986.7,683.1 L984.3,678.8 L981.9,674.4 L979.6,669.9 L977.2,665.6 L974.8,661.2 L972.3,656.9 L969.6,652.6 L966.8,648.5 L963.8,644.6 L960.5,640.9 L956.9,637.4 L953.1,634.2 L949.1,631.1 L945.2,628.0 L941.4,624.9 L937.6,621.5 L934.0,618.1 L930.5,614.6 L927.0,611.0 L923.5,607.4 L920.0,603.8 L916.5,600.3 L912.9,596.8 L909.2,593.5 L905.4,590.2 L901.4,587.2 L897.4,584.2 L893.3,581.4 L889.1,578.7 L884.8,576.1 L880.5,573.5 L876.2,571.0 L871.9,568.4 L867.6,566.0 L863.2,563.6 L858.7,561.3 L854.2,559.3 L849.5,557.6 L844.7,556.1 L839.9,555.0 L835.0,554.1 L830.0,553.5 L825.1,553.0 L820.1,552.6 L815.1,552.4 L810.1,552.1 L805.2,551.4 L800.4,550.5 L795.6,549.5 L790.7,549.1 L785.9,549.5 L781.3,550.8 L776.9,552.9 L772.8,555.5 L769.1,558.8 L765.8,562.5 L762.8,566.4 L760.0,570.5 L757.1,574.6 L754.2,578.7 L751.3,582.8 L748.3,586.8 L745.2,590.7 L742.0,594.5 L738.6,598.2 L735.0,601.6 L731.3,604.9 L727.3,607.7 L723.0,610.0 L718.4,611.5 L713.7,611.9 L709.1,611.1 L704.5,609.6 L699.9,607.8 L695.3,606.2 L690.4,605.0 L685.5,604.3 L680.6,604.0 L675.7,604.3 L670.9,605.2 L666.1,606.6 L661.5,608.4 L657.0,610.6 L652.6,612.9 L648.4,615.6 L644.5,618.6 L640.8,621.9 L637.6,625.6 L634.6,629.6 L631.8,633.8 L629.2,638.0 L626.6,642.3 L624.1,646.7 L621.6,651.0 L619.2,655.3 L616.6,659.6 L613.8,663.6 L610.5,667.3 L606.8,670.4 L602.5,672.8 L598.0,674.4 L593.2,675.4 L588.2,675.7 L583.3,675.7 L578.3,675.3 L573.3,674.8 L568.4,674.2 L563.4,673.5 L558.5,672.8 L553.5,672.2 L548.6,671.4 L543.7,670.4 L538.9,669.1 L534.2,667.5 L529.5,665.8 L524.8,664.0 L520.1,662.3 L515.4,660.7 L510.7,659.2 L505.9,657.6 L504.0,657.0 L504.1,652.0 L504.2,647.0 L504.3,642.0 L504.4,637.0 L504.4,632.0 L504.5,627.0 L504.6,622.0 L504.7,617.0 L504.8,612.0 L504.9,607.0 L505.0,602.0 L505.0,597.0 L505.1,592.0 L505.3,587.0 L505.4,582.0 L505.5,577.0 L505.6,572.0 L505.8,567.0 L505.9,562.0 L506.1,557.0 L506.2,552.0 L506.3,547.0 L506.4,542.0 L506.5,536.9 L506.6,531.9 L506.7,526.9 L506.9,521.9 L507.0,516.9 L507.2,511.9 L507.4,506.9 L507.7,502.0 L508.0,497.0 L508.5,492.0 L509.1,487.0 L509.8,482.1 L510.8,477.2 L511.9,472.3 L513.2,467.5 L514.8,462.8 L516.6,458.1 L518.5,453.5 L520.7,449.0 L522.9,444.5 L525.4,440.2 L527.9,435.8 L530.6,431.6 L533.3,427.4 L536.1,423.3 L539.0,419.2 L542.0,415.2 L545.0,411.2 L548.1,407.3 L551.3,403.5 L554.6,399.7 L557.9,395.9 L561.3,392.2 L564.7,388.6 L568.1,384.9 L571.6,381.3 L575.1,377.7 L578.6,374.2 L582.2,370.7 L585.9,367.4 L589.8,364.3 L594.0,361.7 L598.4,359.7 L602.9,358.7 L607.6,358.9 L612.1,360.3 L616.5,362.4 L620.6,365.1 L624.3,368.4 L627.6,372.0 L630.5,376.0 L633.2,380.2 L635.9,384.4 L638.7,388.5 L641.7,392.5 L645.0,396.2 L648.7,399.3 L652.9,401.8 L657.4,403.4 L662.2,404.5 L667.2,405.1 L672.1,405.6 L677.1,406.0 L682.1,406.4 L687.1,406.8 L692.1,407.3 L697.0,407.5 L702.0,407.5 L706.9,406.9 L711.5,405.6 L715.9,403.6 L720.1,401.0 L724.3,398.4 L728.5,396.2 L732.9,395.1 L737.3,395.5 L741.4,397.3 L744.9,400.3 L747.8,404.2 L750.2,408.5 L752.2,413.0 L754.1,417.6 L755.9,422.3 L757.8,426.9 L759.6,431.6 L761.5,436.2 L763.6,440.8 L765.9,445.2 L768.4,449.5 L771.1,453.7 L774.0,457.7 L777.2,461.5 L780.7,465.1 L784.5,468.3 L788.5,471.2 L792.7,473.8 L797.1,476.3 L801.5,478.7 L805.9,481.0 L810.4,483.2 L814.9,485.3 L819.6,487.2 L824.3,488.8 L829.1,490.2 L833.9,491.4 L838.8,492.4 L843.7,493.3 L848.7,494.1 L853.6,495.0 L858.5,495.8 L863.5,496.6 L868.4,497.5 L873.3,498.4 L878.2,499.3 L883.2,500.2 L888.1,501.0 L893.1,501.7 L898.0,502.4 L903.0,503.0 L908.0,503.5 L912.9,503.9 L917.9,504.3 L922.9,504.6 L927.9,504.9 L932.9,505.1 L937.9,505.3 L942.9,505.4 L947.9,505.6 L952.9,505.7 L957.9,505.7 L962.9,505.8 L967.9,505.9 L972.9,505.9 L977.9,505.9 L982.9,505.9 L987.9,506.0 L992.9,506.0 L997.9,506.0 L1003.0,505.9 L1008.0,505.9 L1013.0,505.9 L1018.0,505.9 L1023.0,505.9 L1028.0,505.9 L1033.0,505.9 L1038.0,505.9 L1043.0,505.9 L1048.0,505.8 L1053.0,505.9 L1058.0,505.9 L1063.0,505.9 L1068.0,505.9 L1073.0,506.0 L1078.0,506.0" fill="none" stroke="#ffff00" stroke-width="10" stroke-linejoin="round" stroke-linecap="butt"/>
<path d="M1080.0,507.0 L1084.9,506.1 L1089.8,505.2 L1094.8,504.4 L1099.7,503.5 L1104.6,502.7 L1109.6,501.9 L1114.5,501.1 L1119.4,500.3 L1124.4,499.5 L1129.3,498.7 L1134.3,497.9 L1139.2,497.1 L1144.1,496.3 L1149.1,495.5 L1154.0,494.6 L1158.9,493.8 L1163.9,493.0 L1168.8,492.1 L1173.7,491.2 L1178.6,490.3 L1183.5,489.4 L1188.5,488.4 L1193.4,487.4 L1198.2,486.3 L1203.1,485.2 L1208.0,484.0 L1212.8,482.7 L1217.6,481.3 L1222.4,479.8 L1227.1,478.2 L1231.8,476.5 L1236.5,474.7 L1241.1,472.8 L1245.6,470.7 L1250.2,468.6 L1254.6,466.3 L1259.1,464.1 L1263.5,461.7 L1267.9,459.3 L1272.2,456.8 L1276.5,454.3 L1280.8,451.6 L1285.0,448.9 L1289.2,446.2 L1293.3,443.4 L1297.5,440.7 L1301.8,438.1 L1306.0,435.4 L1310.3,432.9 L1314.7,430.4 L1319.0,428.0 L1323.4,425.6 L1327.9,423.2 L1332.3,421.0 L1336.8,418.8 L1341.4,416.7 L1346.0,414.7 L1350.6,412.9 L1355.3,411.1 L1360.0,409.5 L1364.8,408.0 L1369.6,406.6 L1374.4,405.3 L1379.2,404.1 L1384.1,403.0 L1389.0,402.0 L1393.9,401.1 L1398.9,400.3 L1403.8,399.5 L1408.8,398.8 L1413.7,398.2 L1418.7,397.6 L1423.7,397.1 L1428.7,396.6 L1433.6,396.1 L1438.6,395.7 L1443.6,395.4 L1448.6,395.1 L1453.6,394.9 L1458.6,394.7 L1463.6,394.6 L1468.6,394.6 L1473.6,394.6 L1478.6,394.8 L1483.6,395.0 L1488.6,395.2 L1493.6,395.6 L1498.6,395.9 L1503.6,396.3 L1508.6,396.6 L1513.5,396.9 L1518.5,397.1 L1523.5,397.3 L1528.5,397.5 L1533.5,397.7 L1538.5,398.0 L1543.5,398.3 L1548.5,398.8 L1553.5,399.3 L1558.5,399.8 L1563.4,400.3 L1568.4,400.9 L1573.4,401.4 L1578.3,402.0 L1583.3,402.6 L1588.3,403.1 L1593.3,403.7 L1598.2,404.2 L1603.2,404.7 L1608.2,405.2 L1613.2,405.6 L1618.1,406.1 L1623.1,406.4 L1628.1,406.8 L1633.1,407.1 L1638.1,407.3 L1643.1,407.6 L1648.1,407.7 L1653.1,407.9 L1658.1,408.0 L1663.1,408.2 L1668.1,408.2 L1673.1,408.3 L1678.1,408.4 L1683.1,408.4 L1688.1,408.5 L1693.1,408.5 L1698.1,408.6 L1703.1,408.6 L1708.1,408.6 L1713.1,408.6 L1718.1,408.7 L1723.1,408.7 L1728.1,408.8 L1733.1,408.8 L1738.1,408.9 L1743.1,409.0 L1748.1,409.1 L1753.1,409.2 L1758.1,409.4 L1763.1,409.6 L1768.1,409.8 L1773.1,410.0 L1778.1,410.2 L1783.1,410.4 L1788.1,410.5 L1793.1,410.7 L1798.1,410.8 L1803.1,410.9 L1808.1,411.0 L1813.1,411.0 L1818.1,411.0 L1823.1,410.9 L1828.1,410.8 L1833.1,410.6 L1838.1,410.4 L1843.1,410.2 L1848.1,409.9 L1853.1,409.6 L1858.1,409.3 L1863.1,408.9 L1868.1,408.4 L1873.0,407.8 L1878.0,407.2 L1883.0,406.5 L1887.9,405.7 L1892.8,404.7 L1897.7,403.6 L1902.5,402.3 L1907.2,400.7 L1911.8,398.8 L1916.3,396.7 L1920.7,394.3 L1925.0,391.7 L1929.2,389.1 L1933.4,386.4 L1937.7,383.8 L1942.0,381.2 L1946.3,378.6 L1950.5,376.0 L1954.8,373.3 L1958.9,370.6 L1963.1,367.8 L1967.2,364.9 L1971.3,362.0 L1975.3,359.1 L1979.3,356.1 L1983.4,353.2 L1985.0,352.0 L1984.3,357.0 L1983.7,361.9 L1983.0,366.9 L1982.3,371.8 L1981.5,376.8 L1980.7,381.7 L1979.9,386.6 L1979.0,391.5 L1978.1,396.5 L1977.1,401.4 L1976.0,406.2 L1974.7,411.1 L1973.2,415.8 L1971.6,420.5 L1969.7,425.2 L1967.6,429.7 L1965.4,434.2 L1963.0,438.6 L1960.5,442.9 L1957.8,447.1 L1955.0,451.2 L1952.0,455.2 L1948.8,459.0 L1945.5,462.7 L1942.0,466.3 L1938.3,469.7 L1934.5,473.0 L1930.6,476.1 L1926.6,479.1 L1922.5,481.9 L1918.3,484.6 L1914.0,487.2 L1909.6,489.5 L1905.1,491.7 L1900.5,493.7 L1895.9,495.5 L1891.1,497.1 L1886.4,498.5 L1881.5,499.7 L1876.6,500.7 L1871.7,501.6 L1866.8,502.3 L1861.8,502.9 L1856.8,503.5 L1851.8,503.9 L1846.9,504.3 L1841.9,504.7 L1836.9,505.0 L1831.9,505.3 L1826.9,505.6 L1821.9,505.9 L1816.9,506.1 L1811.9,506.4 L1806.9,506.5 L1801.9,506.7 L1796.9,506.8 L1791.9,506.9 L1786.9,507.0 L1781.9,507.1 L1776.9,507.1 L1771.9,507.1 L1766.9,507.1 L1761.9,507.1 L1756.9,507.1 L1751.9,507.1 L1746.9,507.1 L1741.9,507.1 L1736.9,507.0 L1731.9,507.0 L1726.9,507.0 L1721.9,507.0 L1716.9,507.0 L1711.9,507.0 L1706.9,507.0 L1701.9,507.0 L1696.9,507.0 L1691.9,507.0 L1686.9,507.1 L1681.9,507.1 L1676.9,507.1 L1671.9,507.1 L1666.9,507.1 L1661.9,507.1 L1656.9,507.1 L1651.9,507.1 L1646.9,507.2 L1641.9,507.2 L1636.9,507.2 L1631.9,507.3 L1626.9,507.4 L1621.9,507.5 L1616.9,507.6 L1611.9,507.7 L1606.9,507.8 L1601.9,507.9 L1596.9,508.0 L1591.9,508.1 L1586.9,508.2 L1581.9,508.3 L1576.9,508.4 L1571.9,508.5 L1566.9,508.6 L1561.9,508.8 L1556.9,508.9 L1551.9,509.0 L1546.9,509.2 L1541.9,509.4 L1536.9,509.5 L1531.9,509.7 L1526.9,509.9 L1521.9,510.1 L1516.9,510.4 L1511.9,510.6 L1506.9,510.9 L1501.9,511.2 L1496.9,511.5 L1491.9,511.8 L1487.0,512.1 L1482.0,512.5 L1477.0,512.8 L1472.0,513.2 L1467.0,513.5 L1462.0,513.9 L1457.0,514.2 L1452.0,514.6 L1447.1,515.0 L1442.1,515.4 L1437.1,515.8 L1432.1,516.3 L1427.1,516.8 L1422.1,517.3 L1417.2,517.8 L1412.2,518.4 L1407.3,519.1 L1402.3,519.8 L1397.4,520.6 L1392.4,521.5 L1387.5,522.4 L1382.7,523.5 L1377.8,524.7 L1373.0,526.1 L1368.3,527.6 L1363.6,529.3 L1358.9,531.1 L1354.3,533.1 L1349.7,535.1 L1345.1,537.1 L1340.6,539.1 L1336.0,541.1 L1331.3,543.0 L1326.7,544.8 L1322.0,546.5 L1317.3,548.1 L1312.5,549.8 L1307.8,551.3 L1303.0,552.9 L1298.3,554.5 L1293.6,556.1 L1288.8,557.8 L1284.1,559.5 L1279.5,561.3 L1274.9,563.2 L1270.3,565.2 L1265.8,567.3 L1261.3,569.6 L1257.0,572.0 L1252.7,574.6 L1248.5,577.3 L1244.3,580.1 L1240.2,582.9 L1236.1,585.8 L1232.0,588.7 L1228.0,591.6 L1223.9,594.5 L1219.8,597.3 L1215.6,600.1 L1211.3,602.7 L1207.1,605.3 L1202.9,608.0 L1198.8,610.8 L1194.9,613.9 L1191.1,617.2 L1187.4,620.6 L1183.9,624.1 L1180.3,627.6 L1176.8,631.2 L1173.3,634.7 L1169.8,638.3 L1166.3,641.9 L1162.8,645.5 L1159.4,649.2 L1156.1,652.9 L1152.9,656.8 L1149.9,660.7 L1146.8,664.7 L1143.9,668.7 L1140.9,672.7 L1137.8,676.6 L1134.6,680.5 L1131.2,684.2 L1127.8,687.7 L1124.2,691.2 L1120.5,694.7 L1117.0,698.1 L1113.5,701.7 L1110.1,705.4 L1106.7,709.1 L1103.5,712.9 L1100.3,716.8 L1097.2,720.7 L1094.0,724.6 L1090.9,728.5 L1087.8,732.3 L1084.6,736.2 L1081.3,740.0 L1077.8,743.5 L1074.0,746.6 L1069.9,749.3 L1065.4,751.4 L1060.8,752.8 L1055.9,753.6 L1051.1,753.5 L1046.2,752.8 L1041.5,751.5 L1036.8,749.7 L1032.3,747.6 L1027.9,745.3 L1023.6,742.7 L1019.5,739.9 L1015.6,736.8 L1011.8,733.6 L1008.2,730.1 L1004.6,726.6 L1001.1,723.1 L997.5,719.6 L994.0,716.0 L990.5,712.5 L986.9,709.0 L983.4,705.4 L979.9,701.8 L976.5,698.2 L973.0,694.5 L969.7,690.9 L966.3,687.1 L963.0,683.4 L959.8,679.6 L956.6,675.8 L953.4,671.9 L950.3,668.0 L947.2,664.0 L944.2,660.1 L941.2,656.0 L938.3,651.9 L935.5,647.8 L932.7,643.7 L929.8,639.6 L926.8,635.6 L923.8,631.6 L920.6,627.8 L917.3,624.0 L914.0,620.3 L910.5,616.6 L907.0,613.1 L903.3,609.7 L899.6,606.4 L895.8,603.2 L891.9,600.1 L887.9,597.0 L883.9,594.0 L879.9,591.1 L875.8,588.2 L871.6,585.4 L867.5,582.6 L863.2,580.0 L858.9,577.5 L854.5,575.2 L849.9,573.2 L845.3,571.4 L840.5,569.9 L835.7,568.7 L830.8,567.7 L825.9,566.7 L821.0,565.8 L816.1,564.9 L811.1,563.9 L806.2,563.1 L801.3,562.6 L796.4,562.6 L791.5,563.1 L786.7,564.3 L782.0,566.0 L777.6,568.2 L773.4,570.8 L769.4,573.7 L765.6,576.9 L761.9,580.4 L758.5,583.9 L755.2,587.7 L752.0,591.6 L748.9,595.5 L745.7,599.3 L742.4,603.1 L738.9,606.6 L735.2,610.0 L731.4,613.1 L727.3,616.0 L723.0,618.6 L718.6,620.8 L714.0,622.5 L709.3,623.6 L704.5,623.8 L699.7,623.1 L695.0,621.7 L690.3,620.2 L685.5,618.6 L680.7,617.3 L675.9,616.1 L671.0,615.3 L666.0,614.9 L661.1,615.1 L656.3,616.0 L651.7,617.5 L647.4,619.8 L643.6,622.8 L640.1,626.3 L637.0,630.2 L634.1,634.2 L631.2,638.3 L628.4,642.5 L625.7,646.6 L623.0,650.9 L620.4,655.1 L617.7,659.3 L615.0,663.5 L612.0,667.5 L608.9,671.5 L605.7,675.3 L602.3,679.0 L599.0,682.6 L595.6,686.4 L592.3,690.1 L589.1,693.9 L585.8,697.6 L582.1,700.8 L578.0,703.2 L573.5,704.6 L568.8,705.1 L563.9,704.6 L559.1,703.6 L554.3,702.1 L549.6,700.6 L544.9,698.9 L540.1,697.3 L535.5,695.5 L530.9,693.5 L526.5,691.2 L522.4,688.5 L518.5,685.4 L515.0,682.0 L511.6,678.2 L508.4,674.4 L505.3,670.5 L504.0,669.0 L504.1,664.0 L504.2,659.0 L504.2,654.0 L504.3,649.0 L504.4,644.0 L504.5,639.0 L504.5,634.0 L504.6,629.0 L504.7,624.0 L504.7,619.0 L504.8,613.9 L504.9,608.9 L505.0,603.9 L505.1,598.9 L505.1,593.9 L505.2,588.9 L505.4,583.9 L505.5,578.9 L505.6,573.9 L505.7,568.9 L505.9,563.9 L506.0,558.9 L506.2,553.9 L506.3,548.9 L506.4,543.9 L506.5,538.9 L506.6,533.9 L506.7,528.9 L506.8,523.9 L507.0,518.9 L507.1,513.9 L507.3,508.9 L507.6,503.9 L507.9,498.9 L508.3,493.9 L508.9,488.9 L509.5,484.0 L510.3,479.0 L511.3,474.1 L512.5,469.3 L513.9,464.5 L515.4,459.7 L517.2,455.0 L519.1,450.4 L521.1,445.9 L523.3,441.4 L525.7,436.9 L528.1,432.6 L530.6,428.3 L533.3,424.0 L536.0,419.8 L538.8,415.7 L541.7,411.6 L544.7,407.6 L547.8,403.6 L551.0,399.8 L554.2,396.0 L557.5,392.2 L560.9,388.5 L564.3,384.9 L567.8,381.3 L571.3,377.7 L574.9,374.2 L578.5,370.7 L582.2,367.3 L586.0,364.1 L590.0,361.2 L594.2,358.6 L598.6,356.6 L603.2,355.7 L607.8,356.0 L612.3,357.4 L616.6,359.7 L620.5,362.6 L624.2,366.0 L627.4,369.7 L630.3,373.7 L633.0,377.9 L635.7,382.1 L638.5,386.3 L641.5,390.3 L644.7,393.9 L648.4,397.1 L652.6,399.5 L657.1,401.1 L662.0,402.0 L666.9,402.5 L671.9,402.8 L676.9,403.0 L681.9,403.3 L686.9,403.7 L691.9,404.1 L696.8,404.4 L701.8,404.4 L706.7,404.0 L711.4,402.8 L715.9,400.9 L720.2,398.5 L724.4,395.9 L728.7,393.7 L733.0,392.4 L737.2,392.7 L741.2,394.6 L744.6,397.7 L747.5,401.6 L749.9,405.9 L752.0,410.4 L753.8,415.1 L755.7,419.7 L757.5,424.4 L759.4,429.0 L761.3,433.6 L763.3,438.2 L765.6,442.7 L768.1,447.0 L770.8,451.2 L773.7,455.2 L776.8,459.1 L780.3,462.7 L783.9,466.1 L787.9,469.1 L792.0,472.0 L796.2,474.6 L800.5,477.1 L804.9,479.5 L809.4,481.8 L813.9,483.9 L818.5,485.8 L823.2,487.5 L828.0,488.9 L832.9,490.1 L837.7,491.2 L842.7,492.1 L847.6,493.0 L852.5,493.8 L857.5,494.6 L862.4,495.5 L867.3,496.3 L872.3,497.2 L877.2,498.1 L882.1,499.0 L887.0,499.8 L892.0,500.5 L897.0,501.2 L901.9,501.8 L906.9,502.4 L911.9,502.8 L916.9,503.2 L921.9,503.6 L926.9,503.8 L931.9,504.1 L936.9,504.2 L941.9,504.4 L946.9,504.5 L951.9,504.6 L956.9,504.7 L961.9,504.8 L966.9,504.8 L971.9,504.9 L976.9,504.9 L981.9,504.9 L986.9,504.9 L991.9,505.0 L996.9,505.0 L1001.9,504.9 L1006.9,504.9 L1011.9,504.9 L1016.9,504.9 L1021.9,504.9 L1026.9,504.9 L1032.0,504.9 L1037.0,504.9 L1042.0,504.9 L1047.0,504.8 L1052.0,504.9 L1057.0,504.9 L1062.0,504.9 L1067.0,504.9 L1072.0,504.9 L1077.0,505.0 L1078.0,505.0" fill="none" stroke="#ff8000" stroke-width="10" stroke-linejoin="round" stroke-linecap="butt"/>
<path d="M1080.0,508.0 L1085.0,507.8 L1090.0,507.7 L1095.0,507.6 L1100.0,507.5 L1105.0,507.3 L1110.0,507.2 L1115.0,507.2 L1120.0,507.1 L1125.0,507.0 L1130.0,506.9 L1135.0,506.9 L1140.0,506.8 L1145.0,506.7 L1150.0,506.7 L1155.0,506.6 L1160.0,506.5 L1165.0,506.4 L1170.0,506.4 L1175.0,506.3 L1180.0,506.2 L1185.0,506.0 L1190.0,505.9 L1195.0,505.8 L1200.0,505.6 L1205.0,505.4 L1210.0,505.2 L1215.0,505.0 L1220.0,504.7 L1225.0,504.4 L1230.0,504.0 L1235.0,503.6 L1239.9,503.1 L1244.9,502.5 L1249.9,501.8 L1254.8,501.1 L1259.7,500.2 L1264.6,499.1 L1269.5,498.0 L1274.3,496.6 L1279.1,495.2 L1283.8,493.5 L1288.4,491.7 L1293.0,489.7 L1297.5,487.4 L1301.8,485.0 L1306.1,482.5 L1310.4,479.9 L1314.7,477.3 L1319.0,474.7 L1323.3,472.3 L1327.8,470.0 L1332.2,467.7 L1336.7,465.4 L1341.1,463.2 L1345.6,460.9 L1350.0,458.5 L1354.4,456.1 L1358.7,453.6 L1362.9,451.0 L1367.2,448.3 L1371.4,445.7 L1375.7,443.1 L1380.1,440.7 L1384.5,438.4 L1389.1,436.4 L1393.7,434.5 L1398.4,432.8 L1403.2,431.3 L1408.0,430.0 L1412.8,428.7 L1417.7,427.6 L1422.6,426.5 L1427.5,425.6 L1432.4,424.7 L1437.4,423.9 L1442.3,423.2 L1447.3,422.6 L1452.2,421.9 L1457.2,421.4 L1462.2,420.8 L1467.2,420.3 L1472.1,419.8 L1477.1,419.4 L1482.1,418.9 L1487.1,418.6 L1492.1,418.2 L1497.1,417.9 L1502.1,417.6 L1507.1,417.4 L1512.1,417.2 L1517.1,417.1 L1522.1,417.0 L1527.1,417.0 L1532.1,417.0 L1537.1,417.1 L1542.1,417.3 L1547.1,417.5 L1552.1,417.8 L1557.0,418.1 L1562.0,418.5 L1567.0,419.0 L1572.0,419.6 L1576.9,420.2 L1581.9,420.8 L1586.9,421.5 L1591.8,422.2 L1596.8,422.9 L1601.7,423.7 L1606.7,424.4 L1611.6,425.1 L1616.6,425.8 L1621.5,426.5 L1626.5,427.1 L1631.4,427.7 L1636.4,428.3 L1641.4,428.8 L1646.4,429.3 L1651.3,429.7 L1656.3,430.1 L1661.3,430.4 L1666.3,430.7 L1671.3,430.9 L1676.3,431.1 L1681.3,431.3 L1686.3,431.5 L1691.3,431.6 L1696.3,431.7 L1701.3,431.8 L1706.3,431.9 L1711.3,431.9 L1716.3,432.0 L1721.3,432.0 L1726.3,432.0 L1731.3,432.1 L1736.3,432.1 L1741.3,432.1 L1746.3,432.0 L1751.3,432.0 L1756.3,432.0 L1761.3,432.0 L1766.3,432.0 L1771.3,432.0 L1776.3,432.0 L1781.3,432.0 L1786.3,431.9 L1791.3,431.9 L1796.3,431.8 L1801.3,431.7 L1806.3,431.5 L1811.3,431.4 L1816.3,431.1 L1821.3,430.9 L1826.3,430.6 L1831.3,430.3 L1836.3,430.0 L1841.3,429.6 L1846.3,429.3 L1851.3,428.9 L1856.3,428.4 L1861.2,428.0 L1866.2,427.5 L1871.2,427.0 L1876.2,426.4 L1881.1,425.8 L1886.1,425.2 L1891.0,424.5 L1896.0,423.8 L1900.9,423.1 L1905.9,422.3 L1910.8,421.5 L1915.8,420.7 L1920.7,419.8 L1925.6,418.9 L1930.5,417.9 L1935.4,416.9 L1940.3,415.9 L1945.1,414.7 L1950.0,413.4 L1954.7,411.9 L1959.4,410.1 L1964.0,408.3 L1968.6,406.2 L1973.1,404.1 L1977.7,402.0 L1982.2,399.9 L1984.0,399.0 L1983.5,404.0 L1983.1,409.0 L1982.6,413.9 L1982.0,418.9 L1981.3,423.8 L1980.3,428.7 L1978.9,433.5 L1977.4,438.2 L1975.5,442.9 L1973.5,447.4 L1971.2,451.9 L1968.7,456.2 L1966.1,460.4 L1963.2,464.5 L1960.1,468.4 L1956.9,472.2 L1953.4,475.8 L1949.8,479.3 L1946.0,482.6 L1942.1,485.6 L1938.1,488.5 L1933.9,491.2 L1929.5,493.7 L1925.1,496.0 L1920.5,498.0 L1915.9,499.7 L1911.1,501.2 L1906.3,502.4 L1901.4,503.4 L1896.4,504.1 L1891.5,504.8 L1886.5,505.3 L1881.5,505.8 L1876.5,506.2 L1871.5,506.6 L1866.5,506.9 L1861.6,507.1 L1856.6,507.3 L1851.6,507.5 L1846.6,507.6 L1841.6,507.6 L1836.6,507.7 L1831.5,507.8 L1826.5,507.9 L1821.5,508.0 L1816.5,508.1 L1811.5,508.1 L1806.5,508.2 L1801.5,508.3 L1796.5,508.4 L1791.5,508.4 L1786.5,508.5 L1781.5,508.5 L1776.5,508.6 L1771.5,508.6 L1766.5,508.6 L1761.5,508.7 L1756.5,508.7 L1751.5,508.7 L1746.5,508.7 L1741.5,508.8 L1736.5,508.8 L1731.5,508.8 L1726.5,508.8 L1721.5,508.9 L1716.5,508.9 L1711.5,508.9 L1706.5,509.0 L1701.5,509.0 L1696.5,509.0 L1691.5,509.0 L1686.5,509.1 L1681.5,509.1 L1676.5,509.1 L1671.5,509.1 L1666.5,509.1 L1661.5,509.1 L1656.5,509.1 L1651.5,509.1 L1646.5,509.1 L1641.5,509.2 L1636.5,509.2 L1631.5,509.3 L1626.5,509.4 L1621.5,509.5 L1616.5,509.6 L1611.5,509.7 L1606.5,509.8 L1601.5,509.9 L1596.5,510.1 L1591.5,510.2 L1586.5,510.3 L1581.5,510.5 L1576.5,510.6 L1571.5,510.8 L1566.5,510.9 L1561.5,511.1 L1556.5,511.3 L1551.5,511.4 L1546.5,511.6 L1541.5,511.8 L1536.5,512.1 L1531.5,512.3 L1526.5,512.5 L1521.5,512.8 L1516.5,513.1 L1511.5,513.4 L1506.5,513.7 L1501.5,514.1 L1496.5,514.4 L1491.5,514.8 L1486.6,515.2 L1481.6,515.6 L1476.6,516.0 L1471.6,516.5 L1466.6,516.9 L1461.6,517.3 L1456.7,517.8 L1451.7,518.2 L1446.7,518.7 L1441.7,519.2 L1436.7,519.7 L1431.8,520.2 L1426.8,520.8 L1421.8,521.4 L1416.9,522.1 L1411.9,522.8 L1407.0,523.5 L1402.0,524.4 L1397.1,525.2 L1392.2,526.2 L1387.3,527.3 L1382.5,528.5 L1377.7,529.8 L1372.9,531.3 L1368.2,533.0 L1363.5,534.7 L1358.9,536.7 L1354.3,538.7 L1349.8,540.8 L1345.3,542.9 L1340.7,545.1 L1336.2,547.2 L1331.7,549.2 L1327.1,551.2 L1322.5,553.1 L1317.8,555.0 L1313.2,556.9 L1308.6,558.8 L1304.0,560.8 L1299.4,562.8 L1294.8,564.8 L1290.3,566.9 L1285.7,569.1 L1281.3,571.2 L1276.8,573.5 L1272.4,576.0 L1268.2,578.5 L1264.0,581.3 L1259.9,584.2 L1256.0,587.3 L1252.2,590.5 L1248.4,593.8 L1244.7,597.1 L1241.0,600.5 L1237.4,604.0 L1233.8,607.4 L1230.2,610.9 L1226.6,614.4 L1223.1,617.9 L1219.5,621.5 L1216.0,625.0 L1212.5,628.5 L1208.8,632.0 L1205.1,635.3 L1201.4,638.6 L1197.6,641.9 L1193.8,645.2 L1190.0,648.4 L1186.3,651.8 L1182.6,655.2 L1179.0,658.7 L1175.4,662.1 L1171.8,665.6 L1168.1,668.9 L1164.4,672.2 L1160.5,675.4 L1156.6,678.5 L1152.6,681.6 L1148.6,684.6 L1144.6,687.6 L1140.6,690.5 L1136.5,693.4 L1132.4,696.2 L1128.1,698.9 L1123.8,701.3 L1119.3,703.4 L1114.6,705.3 L1109.9,706.8 L1105.1,707.9 L1100.2,708.6 L1095.2,708.7 L1090.3,708.3 L1085.5,707.3 L1081.0,705.6 L1076.7,703.2 L1072.7,700.3 L1069.0,696.9 L1065.5,693.4 L1062.1,689.7 L1058.8,686.0 L1055.4,682.3 L1052.0,678.7 L1048.6,675.0 L1045.2,671.3 L1041.9,667.5 L1038.6,663.8 L1035.3,660.0 L1032.0,656.3 L1028.7,652.5 L1025.4,648.8 L1022.0,645.1 L1018.7,641.3 L1015.3,637.6 L1011.9,633.9 L1008.6,630.2 L1005.2,626.5 L1001.8,622.9 L998.4,619.2 L995.0,615.5 L991.6,611.9 L988.1,608.3 L984.6,604.7 L981.1,601.2 L977.5,597.7 L973.9,594.2 L970.2,590.8 L966.5,587.4 L962.8,584.1 L959.0,580.9 L955.1,577.8 L951.1,574.7 L947.1,571.7 L943.1,568.8 L939.0,565.9 L934.8,563.1 L930.6,560.5 L926.3,557.9 L922.0,555.4 L917.6,553.0 L913.1,550.7 L908.6,548.6 L904.1,546.5 L899.5,544.5 L894.8,542.7 L890.2,540.9 L885.4,539.3 L880.7,537.7 L875.9,536.2 L871.1,534.8 L866.3,533.5 L861.4,532.3 L856.6,531.2 L851.7,530.1 L846.8,529.1 L841.9,528.2 L836.9,527.4 L832.0,526.8 L827.0,526.3 L822.0,526.0 L817.0,526.0 L812.0,526.2 L807.1,526.7 L802.1,527.4 L797.2,528.2 L792.3,529.2 L787.4,530.3 L782.6,531.6 L777.9,533.2 L773.4,535.2 L769.2,537.8 L765.4,540.9 L762.0,544.4 L758.9,548.3 L756.0,552.4 L753.2,556.5 L750.6,560.8 L748.0,565.0 L745.3,569.3 L742.5,573.4 L739.6,577.4 L736.3,581.0 L732.5,584.1 L728.3,586.3 L723.8,587.5 L719.1,587.5 L714.4,586.5 L709.7,584.9 L705.0,583.2 L700.3,581.5 L695.5,580.1 L690.7,579.0 L685.8,578.2 L680.9,578.0 L676.0,578.4 L671.1,579.2 L666.3,580.5 L661.6,582.2 L657.2,584.3 L652.9,586.9 L648.9,589.9 L645.2,593.1 L641.7,596.7 L638.5,600.5 L635.6,604.5 L632.9,608.7 L630.3,613.0 L627.8,617.3 L625.5,621.8 L623.2,626.2 L621.0,630.7 L618.8,635.2 L616.7,639.7 L614.6,644.3 L612.4,648.8 L610.2,653.3 L607.9,657.7 L605.3,661.9 L602.5,666.0 L599.3,669.7 L595.7,672.8 L591.5,675.0 L586.9,676.1 L582.1,676.3 L577.1,676.1 L572.2,675.7 L567.2,675.2 L562.2,674.6 L557.2,674.1 L552.3,673.6 L547.3,673.3 L542.3,673.3 L537.3,673.5 L532.4,674.1 L527.4,674.9 L522.5,675.8 L517.7,676.9 L512.8,678.0 L507.9,679.1 L504.0,680.0 L504.1,675.0 L504.1,670.0 L504.2,665.0 L504.2,660.0 L504.3,655.0 L504.3,650.0 L504.3,645.0 L504.4,640.0 L504.4,635.0 L504.4,629.9 L504.5,624.9 L504.5,619.9 L504.6,614.9 L504.6,609.9 L504.7,604.9 L504.7,599.9 L504.8,594.9 L504.9,589.9 L505.0,584.9 L505.2,579.9 L505.3,574.9 L505.5,569.9 L505.8,564.9 L506.0,559.9 L506.3,554.9 L506.6,549.9 L506.9,544.9 L507.3,539.9 L507.7,534.9 L508.1,529.9 L508.5,525.0 L509.0,520.0 L509.6,515.0 L510.3,510.1 L511.2,505.1 L512.2,500.3 L513.6,495.5 L515.2,490.8 L517.2,486.2 L519.5,481.7 L521.9,477.4 L524.5,473.1 L527.2,468.9 L530.0,464.8 L532.9,460.7 L535.8,456.6 L538.7,452.5 L541.7,448.5 L544.7,444.5 L547.8,440.6 L550.9,436.7 L554.1,432.8 L557.3,428.9 L560.5,425.1 L563.7,421.3 L566.9,417.4 L570.1,413.6 L573.3,409.7 L576.4,405.8 L579.6,401.9 L582.8,398.0 L586.1,394.3 L589.5,390.7 L593.1,387.2 L596.8,383.8 L600.5,380.6 L604.5,377.8 L608.8,375.8 L613.1,375.2 L617.4,376.1 L621.2,378.5 L624.7,381.8 L627.6,385.7 L630.3,389.9 L632.9,394.2 L635.4,398.5 L638.1,402.8 L640.8,406.9 L643.9,410.8 L647.3,414.4 L651.1,417.3 L655.4,419.7 L660.0,421.4 L664.8,422.7 L669.7,423.7 L674.6,424.4 L679.6,424.9 L684.6,425.0 L689.6,424.8 L694.5,424.2 L699.4,423.3 L704.2,422.0 L708.8,420.3 L713.3,418.1 L717.5,415.5 L721.7,412.9 L726.0,410.7 L730.4,409.3 L734.7,409.3 L738.7,411.0 L742.2,414.0 L745.1,417.8 L747.5,422.1 L749.7,426.6 L751.8,431.1 L754.0,435.6 L756.4,440.0 L758.9,444.3 L761.6,448.5 L764.5,452.6 L767.5,456.6 L770.6,460.5 L773.9,464.2 L777.4,467.9 L781.0,471.2 L784.9,474.3 L789.0,477.1 L793.4,479.6 L797.8,481.7 L802.5,483.7 L807.1,485.4 L811.9,487.1 L816.6,488.6 L821.4,490.2 L826.2,491.6 L831.0,493.1 L835.8,494.4 L840.6,495.7 L845.5,496.9 L850.4,498.0 L855.3,499.0 L860.2,500.0 L865.1,500.8 L870.0,501.6 L875.0,502.4 L880.0,503.0 L884.9,503.6 L889.9,504.2 L894.9,504.6 L899.9,505.1 L904.9,505.4 L909.8,505.8 L914.8,506.1 L919.8,506.3 L924.8,506.5 L929.8,506.7 L934.9,506.8 L939.9,507.0 L944.9,507.0 L949.9,507.1 L954.9,507.2 L959.9,507.2 L964.9,507.2 L969.9,507.3 L974.9,507.3 L979.9,507.3 L984.9,507.3 L989.9,507.3 L994.9,507.2 L999.9,507.2 L1004.9,507.2 L1009.9,507.2 L1014.9,507.1 L1019.9,507.1 L1024.9,507.1 L1029.9,507.1 L1035.0,507.0 L1040.0,507.0 L1045.0,507.0 L1050.0,507.0 L1055.0,507.0 L1060.0,507.0 L1065.0,507.0 L1070.0,507.0 L1075.0,507.0 L1078.0,507.0" fill="none" stroke="#ff0080" stroke-width="10" stroke-linejoin="round" stroke-linecap="butt"/>
<path d="M1080.0,506.0 L1085.0,506.0 L1090.0,505.9 L1095.0,505.9 L1100.0,505.9 L1105.0,505.9 L1110.0,505.9 L1115.0,506.0 L1120.0,506.0 L1125.0,506.0 L1130.1,506.1 L1135.1,506.1 L1140.1,506.1 L1145.1,506.1 L1150.1,506.1 L1155.1,506.1 L1160.1,506.0 L1165.1,505.9 L1170.1,505.7 L1175.1,505.5 L1180.1,505.3 L1185.1,505.0 L1190.1,504.6 L1195.1,504.1 L1200.0,503.6 L1205.0,503.0 L1210.0,502.4 L1214.9,501.7 L1219.9,500.9 L1224.8,500.1 L1229.7,499.2 L1234.6,498.2 L1239.5,497.1 L1244.4,496.0 L1249.2,494.7 L1254.1,493.4 L1258.8,491.9 L1263.6,490.3 L1268.3,488.6 L1272.9,486.7 L1277.5,484.7 L1282.0,482.5 L1286.4,480.2 L1290.8,477.8 L1295.2,475.4 L1299.5,472.9 L1303.9,470.5 L1308.2,468.0 L1312.6,465.5 L1316.9,463.0 L1321.2,460.4 L1325.5,457.9 L1329.8,455.2 L1334.1,452.6 L1338.3,450.0 L1342.6,447.5 L1347.0,445.0 L1351.4,442.6 L1355.8,440.2 L1360.2,437.9 L1364.7,435.7 L1369.2,433.6 L1373.8,431.4 L1378.3,429.4 L1382.9,427.4 L1387.5,425.5 L1392.2,423.6 L1396.9,421.9 L1401.6,420.2 L1406.4,418.7 L1411.1,417.2 L1415.9,415.8 L1420.8,414.5 L1425.6,413.3 L1430.5,412.2 L1435.4,411.1 L1440.3,410.2 L1445.2,409.4 L1450.2,408.7 L1455.2,408.0 L1460.1,407.5 L1465.1,407.1 L1470.1,406.8 L1475.1,406.6 L1480.1,406.4 L1485.1,406.2 L1490.1,406.1 L1495.1,406.0 L1500.1,405.9 L1505.1,405.9 L1510.1,405.9 L1515.1,406.0 L1520.2,406.1 L1525.2,406.3 L1530.2,406.5 L1535.2,406.8 L1540.1,407.1 L1545.1,407.4 L1550.1,407.8 L1555.1,408.2 L1560.1,408.7 L1565.1,409.2 L1570.1,409.8 L1575.0,410.3 L1580.0,410.9 L1585.0,411.5 L1589.9,412.0 L1594.9,412.6 L1599.9,413.1 L1604.9,413.6 L1609.9,414.2 L1614.8,414.6 L1619.8,415.1 L1624.8,415.5 L1629.8,415.9 L1634.8,416.2 L1639.8,416.6 L1644.8,416.9 L1649.8,417.2 L1654.8,417.5 L1659.8,417.7 L1664.8,418.0 L1669.8,418.2 L1674.8,418.5 L1679.8,418.7 L1684.8,418.9 L1689.8,419.1 L1694.8,419.3 L1699.8,419.5 L1704.8,419.6 L1709.8,419.8 L1714.8,419.9 L1719.8,420.0 L1724.8,420.2 L1729.8,420.3 L1734.8,420.4 L1739.8,420.4 L1744.8,420.5 L1749.8,420.5 L1754.8,420.5 L1759.8,420.5 L1764.8,420.5 L1769.8,420.5 L1774.8,420.4 L1779.8,420.3 L1784.9,420.2 L1789.9,420.1 L1794.9,419.9 L1799.9,419.8 L1804.9,419.6 L1809.9,419.4 L1814.9,419.2 L1819.9,419.0 L1824.9,418.8 L1829.9,418.6 L1834.9,418.4 L1839.9,418.2 L1844.9,417.9 L1849.9,417.6 L1854.9,417.3 L1859.9,417.0 L1864.8,416.6 L1869.8,416.1 L1874.8,415.6 L1879.8,414.9 L1884.7,414.2 L1889.7,413.5 L1894.6,412.6 L1899.5,411.7 L1904.4,410.7 L1909.3,409.6 L1914.2,408.5 L1919.0,407.3 L1923.9,406.0 L1928.7,404.7 L1933.5,403.4 L1938.3,401.9 L1943.1,400.4 L1947.8,398.8 L1952.5,397.0 L1957.1,395.1 L1961.6,392.9 L1966.0,390.6 L1970.3,388.0 L1974.6,385.4 L1978.8,382.7 L1983.0,380.0 L1982.3,385.0 L1981.6,389.9 L1980.8,394.8 L1979.9,399.8 L1978.9,404.7 L1977.7,409.5 L1976.3,414.3 L1974.8,419.0 L1973.0,423.7 L1971.1,428.4 L1969.1,432.9 L1967.0,437.4 L1964.7,441.9 L1962.3,446.3 L1959.7,450.5 L1956.9,454.7 L1954.0,458.7 L1950.8,462.6 L1947.6,466.4 L1944.2,470.0 L1940.6,473.6 L1937.0,476.9 L1933.2,480.2 L1929.2,483.3 L1925.2,486.2 L1921.0,489.0 L1916.7,491.5 L1912.3,493.9 L1907.8,496.0 L1903.2,497.9 L1898.5,499.5 L1893.7,501.0 L1888.9,502.1 L1884.0,503.0 L1879.0,503.8 L1874.1,504.4 L1869.1,505.0 L1864.1,505.6 L1859.1,506.1 L1854.2,506.6 L1849.2,507.1 L1844.2,507.5 L1839.2,507.9 L1834.2,508.2 L1829.2,508.5 L1824.2,508.8 L1819.2,509.0 L1814.2,509.2 L1809.2,509.3 L1804.2,509.4 L1799.2,509.5 L1794.2,509.6 L1789.2,509.6 L1784.2,509.7 L1779.2,509.7 L1774.2,509.7 L1769.2,509.7 L1764.2,509.7 L1759.2,509.7 L1754.2,509.7 L1749.2,509.7 L1744.2,509.7 L1739.2,509.7 L1734.2,509.8 L1729.2,509.8 L1724.2,509.8 L1719.2,509.8 L1714.2,509.8 L1709.2,509.9 L1704.2,510.0 L1699.2,510.0 L1694.2,510.1 L1689.2,510.2 L1684.2,510.3 L1679.2,510.4 L1674.2,510.5 L1669.2,510.6 L1664.2,510.7 L1659.2,510.8 L1654.2,510.9 L1649.2,511.1 L1644.2,511.2 L1639.2,511.4 L1634.2,511.5 L1629.2,511.7 L1624.2,511.9 L1619.2,512.0 L1614.2,512.2 L1609.2,512.4 L1604.2,512.6 L1599.2,512.8 L1594.2,512.9 L1589.2,513.1 L1584.2,513.3 L1579.2,513.5 L1574.2,513.8 L1569.2,514.0 L1564.2,514.3 L1559.2,514.6 L1554.2,514.9 L1549.2,515.3 L1544.2,515.7 L1539.3,516.1 L1534.3,516.6 L1529.3,517.2 L1524.3,517.8 L1519.4,518.5 L1514.4,519.2 L1509.5,519.9 L1504.5,520.6 L1499.6,521.4 L1494.7,522.1 L1489.7,522.9 L1484.8,523.6 L1479.8,524.3 L1474.9,525.1 L1469.9,525.8 L1465.0,526.5 L1460.0,527.2 L1455.1,527.9 L1450.1,528.7 L1445.2,529.4 L1440.2,530.1 L1435.3,530.9 L1430.3,531.6 L1425.4,532.4 L1420.4,533.2 L1415.5,534.0 L1410.6,534.8 L1405.6,535.7 L1400.7,536.6 L1395.8,537.5 L1390.9,538.5 L1386.0,539.6 L1381.2,540.8 L1376.3,542.0 L1371.5,543.3 L1366.6,544.5 L1361.8,545.7 L1356.9,546.9 L1352.0,548.0 L1347.1,549.1 L1342.3,550.2 L1337.4,551.3 L1332.6,552.6 L1327.8,554.0 L1323.0,555.5 L1318.2,557.1 L1313.5,558.7 L1308.9,560.5 L1304.3,562.5 L1299.7,564.6 L1295.3,566.8 L1290.9,569.3 L1286.6,571.8 L1282.4,574.5 L1278.2,577.3 L1274.2,580.2 L1270.2,583.2 L1266.3,586.3 L1262.5,589.6 L1258.8,593.0 L1255.3,596.5 L1251.9,600.1 L1248.5,603.8 L1245.1,607.5 L1241.7,611.2 L1238.2,614.8 L1234.8,618.4 L1231.3,622.0 L1227.8,625.6 L1224.4,629.2 L1221.0,632.9 L1217.7,636.6 L1214.4,640.4 L1211.2,644.2 L1208.0,648.1 L1204.8,651.9 L1201.5,655.8 L1198.3,659.6 L1195.0,663.3 L1191.7,667.1 L1188.4,670.8 L1185.1,674.6 L1181.7,678.3 L1178.3,682.0 L1174.9,685.6 L1171.5,689.3 L1168.1,693.0 L1164.7,696.6 L1161.3,700.3 L1157.9,703.9 L1154.5,707.7 L1151.2,711.4 L1148.0,715.2 L1144.8,719.0 L1141.5,722.8 L1138.1,726.5 L1134.7,730.1 L1131.1,733.6 L1127.4,736.9 L1123.5,740.1 L1119.4,742.9 L1115.1,745.2 L1110.5,747.0 L1105.8,748.1 L1100.9,748.4 L1096.2,747.8 L1091.5,746.3 L1087.1,744.2 L1083.0,741.5 L1079.1,738.4 L1075.4,735.0 L1072.0,731.4 L1068.8,727.6 L1065.8,723.6 L1062.8,719.6 L1059.9,715.5 L1057.0,711.4 L1054.1,707.4 L1051.2,703.3 L1048.4,699.2 L1045.5,695.1 L1042.7,690.9 L1039.9,686.8 L1037.0,682.7 L1034.2,678.6 L1031.3,674.5 L1028.3,670.5 L1025.3,666.5 L1022.3,662.5 L1019.2,658.6 L1016.0,654.7 L1012.8,650.8 L1009.6,647.0 L1006.3,643.2 L1003.0,639.5 L999.7,635.7 L996.4,632.0 L993.0,628.3 L989.7,624.6 L986.3,620.9 L982.9,617.2 L979.5,613.5 L976.2,609.8 L972.8,606.1 L969.4,602.4 L966.0,598.8 L962.5,595.2 L958.9,591.7 L955.3,588.3 L951.6,584.9 L947.8,581.7 L943.9,578.6 L939.9,575.5 L935.9,572.6 L931.8,569.7 L927.7,566.8 L923.5,564.0 L919.3,561.3 L915.1,558.6 L910.9,556.0 L906.5,553.5 L902.1,551.1 L897.6,549.0 L893.0,547.0 L888.4,545.2 L883.6,543.6 L878.8,542.2 L874.0,540.9 L869.2,539.6 L864.3,538.5 L859.4,537.4 L854.5,536.3 L849.6,535.3 L844.7,534.4 L839.8,533.6 L834.8,532.9 L829.9,532.3 L824.9,531.9 L819.9,531.6 L814.9,531.5 L809.9,531.7 L805.0,532.1 L800.0,532.7 L795.1,533.5 L790.2,534.6 L785.5,536.1 L780.9,537.9 L776.5,540.3 L772.4,543.0 L768.6,546.2 L765.0,549.6 L761.7,553.3 L758.6,557.2 L755.8,561.4 L753.3,565.7 L750.9,570.1 L748.5,574.4 L746.1,578.8 L743.5,583.1 L740.7,587.2 L737.7,591.1 L734.2,594.5 L730.3,597.3 L726.0,599.0 L721.3,599.5 L716.7,598.9 L712.0,597.5 L707.3,595.8 L702.6,594.2 L697.8,592.6 L693.0,591.3 L688.2,590.2 L683.3,589.7 L678.3,589.6 L673.4,590.1 L668.6,591.1 L664.0,592.8 L659.7,595.0 L655.8,598.0 L652.4,601.5 L649.4,605.5 L646.6,609.5 L643.7,613.6 L640.5,617.3 L636.9,620.7 L633.3,624.0 L629.9,627.4 L627.0,631.4 L624.7,635.7 L622.8,640.3 L621.1,645.0 L619.5,649.7 L617.9,654.4 L616.2,659.1 L614.5,663.9 L612.9,668.6 L611.1,673.3 L609.2,677.9 L607.1,682.4 L604.7,686.7 L601.8,690.6 L598.4,693.9 L594.5,696.2 L590.1,697.1 L585.5,696.6 L580.9,695.2 L576.3,693.2 L571.8,691.1 L567.3,689.0 L562.7,687.1 L558.0,685.3 L553.3,683.6 L548.5,682.1 L543.7,680.7 L538.9,679.7 L533.9,678.9 L529.0,678.4 L524.0,678.0 L519.0,677.7 L514.0,677.5 L509.0,677.2 L504.0,677.0 L504.0,672.0 L504.1,667.0 L504.1,662.0 L504.1,657.0 L504.1,652.0 L504.1,647.0 L504.1,642.0 L504.1,637.0 L504.1,632.0 L504.1,627.0 L504.1,622.0 L504.1,617.0 L504.1,612.0 L504.2,607.0 L504.2,602.0 L504.2,597.0 L504.3,592.0 L504.3,587.0 L504.4,582.0 L504.5,577.0 L504.6,572.0 L504.8,567.0 L504.9,562.0 L505.1,557.0 L505.3,552.0 L505.6,547.0 L505.8,542.0 L506.0,537.0 L506.3,532.0 L506.6,527.0 L506.9,522.0 L507.2,517.0 L507.6,512.0 L508.0,507.0 L508.5,502.1 L509.1,497.1 L509.8,492.1 L510.6,487.2 L511.5,482.3 L512.6,477.4 L513.9,472.6 L515.6,467.9 L517.5,463.3 L519.7,458.8 L522.0,454.5 L524.6,450.2 L527.2,445.9 L530.0,441.7 L532.8,437.6 L535.7,433.6 L538.7,429.5 L541.8,425.6 L544.9,421.7 L548.1,417.9 L551.4,414.1 L554.7,410.3 L558.0,406.5 L561.3,402.8 L564.6,399.0 L567.8,395.2 L571.1,391.5 L574.4,387.7 L577.8,384.1 L581.3,380.5 L584.9,377.0 L588.7,373.7 L592.4,370.4 L596.3,367.3 L600.3,364.4 L604.5,361.9 L608.9,360.3 L613.4,360.0 L617.7,361.2 L621.6,363.6 L625.2,366.9 L628.3,370.7 L631.1,374.8 L633.8,379.0 L636.4,383.2 L639.2,387.4 L642.1,391.5 L645.2,395.4 L648.6,399.0 L652.3,402.2 L656.4,405.0 L660.7,407.4 L665.3,409.3 L670.0,410.8 L674.9,411.9 L679.8,412.5 L684.8,412.8 L689.7,412.7 L694.7,412.4 L699.6,411.7 L704.4,410.6 L708.9,408.8 L713.1,406.4 L716.9,403.3 L720.5,399.9 L724.3,396.8 L728.3,394.4 L732.6,393.1 L737.0,393.4 L741.1,395.1 L744.7,398.1 L747.6,401.9 L750.0,406.2 L752.1,410.7 L754.0,415.3 L755.8,420.0 L757.6,424.6 L759.5,429.3 L761.4,433.9 L763.5,438.4 L765.7,442.9 L768.2,447.2 L770.9,451.4 L773.8,455.4 L777.0,459.3 L780.4,462.9 L784.1,466.2 L788.0,469.2 L792.1,472.1 L796.4,474.7 L800.7,477.2 L805.1,479.6 L809.6,481.8 L814.1,483.9 L818.7,485.9 L823.4,487.5 L828.2,489.0 L833.0,490.2 L837.9,491.2 L842.8,492.1 L847.8,493.0 L852.7,493.8 L857.6,494.6 L862.5,495.5 L867.5,496.4 L872.4,497.3 L877.3,498.2 L882.2,499.0 L887.2,499.8 L892.1,500.6 L897.1,501.3 L902.0,501.9 L907.0,502.4 L912.0,502.8 L917.0,503.2 L922.0,503.5 L927.0,503.8 L932.0,504.0 L937.0,504.1 L942.0,504.3 L947.0,504.4 L952.0,504.5 L957.0,504.5 L962.0,504.6 L967.0,504.6 L972.0,504.6 L977.0,504.6 L982.0,504.6 L987.0,504.5 L992.0,504.5 L997.0,504.5 L1002.0,504.4 L1007.0,504.4 L1012.0,504.4 L1017.0,504.3 L1022.0,504.3 L1027.0,504.2 L1032.0,504.2 L1037.0,504.1 L1042.0,504.1 L1047.0,504.0 L1052.0,504.0 L1057.0,504.0 L1062.0,504.0 L1067.0,504.0 L1072.0,504.0 L1077.0,504.0 L1078.0,504.0" fill="none" stroke="#00ff00" stroke-width="10" stroke-linejoin="round" stroke-linecap="butt"/>
<path d="M1078.0,508.0 L1082.9,506.9 L1087.8,505.8 L1092.6,504.7 L1097.5,503.5 L1102.3,502.3 L1107.1,500.9 L1111.9,499.5 L1116.7,498.0 L1121.5,496.5 L1126.3,495.0 L1131.1,493.6 L1135.9,492.2 L1140.7,490.9 L1145.5,489.7 L1150.4,488.5 L1155.3,487.5 L1160.2,486.4 L1165.1,485.4 L1170.0,484.3 L1174.8,483.3 L1179.7,482.2 L1184.6,481.1 L1189.5,479.9 L1194.3,478.6 L1199.1,477.2 L1203.9,475.8 L1208.6,474.2 L1213.3,472.5 L1217.9,470.6 L1222.5,468.5 L1226.9,466.2 L1231.2,463.7 L1235.5,461.1 L1239.6,458.3 L1243.6,455.4 L1247.6,452.3 L1251.5,449.1 L1255.2,445.9 L1258.9,442.5 L1262.5,439.0 L1266.0,435.4 L1269.5,431.8 L1273.0,428.2 L1276.4,424.6 L1279.8,421.0 L1283.2,417.3 L1286.6,413.6 L1289.9,409.9 L1293.3,406.1 L1296.6,402.4 L1299.9,398.7 L1303.3,395.0 L1306.6,391.3 L1310.0,387.6 L1313.3,383.8 L1316.7,380.1 L1320.0,376.4 L1323.3,372.6 L1326.6,368.9 L1329.9,365.1 L1333.2,361.3 L1336.5,357.6 L1339.8,353.8 L1343.1,350.0 L1346.4,346.3 L1349.7,342.6 L1353.2,339.0 L1356.7,335.4 L1360.2,331.9 L1363.9,328.5 L1367.8,325.4 L1371.8,322.4 L1376.0,319.7 L1380.3,317.2 L1384.7,314.9 L1389.2,312.7 L1393.8,310.7 L1398.4,308.7 L1403.1,307.0 L1407.8,305.3 L1412.6,303.8 L1417.4,302.5 L1422.2,301.3 L1427.1,300.3 L1432.0,299.4 L1437.0,298.6 L1441.9,297.9 L1446.9,297.3 L1451.9,296.9 L1456.8,296.6 L1461.8,296.5 L1466.8,296.5 L1471.8,296.6 L1476.8,296.8 L1481.8,297.1 L1486.8,297.6 L1491.8,298.2 L1496.7,298.9 L1501.6,299.7 L1506.6,300.6 L1511.5,301.5 L1516.4,302.6 L1521.2,303.7 L1526.1,304.8 L1531.0,306.0 L1535.8,307.3 L1540.6,308.6 L1545.5,309.8 L1550.3,311.0 L1555.2,312.2 L1560.1,313.1 L1565.0,314.0 L1570.0,314.7 L1574.9,315.3 L1579.9,315.8 L1584.9,316.4 L1589.8,317.0 L1594.8,317.7 L1599.7,318.4 L1604.7,319.1 L1609.6,319.8 L1614.6,320.5 L1619.5,321.2 L1624.5,321.8 L1629.5,322.5 L1634.4,323.1 L1639.4,323.6 L1644.4,324.1 L1649.4,324.6 L1654.3,325.0 L1659.3,325.3 L1664.3,325.6 L1669.3,325.9 L1674.3,326.1 L1679.3,326.3 L1684.3,326.4 L1689.3,326.5 L1694.3,326.7 L1699.3,326.7 L1704.3,326.8 L1709.3,326.9 L1714.3,326.9 L1719.3,327.0 L1724.3,327.0 L1729.3,327.0 L1734.3,327.0 L1739.3,327.0 L1744.3,327.0 L1749.3,327.0 L1754.3,327.0 L1759.3,327.0 L1764.3,326.9 L1769.3,326.9 L1774.3,326.8 L1779.3,326.7 L1784.3,326.6 L1789.3,326.4 L1794.3,326.2 L1799.3,325.9 L1804.3,325.6 L1809.3,325.3 L1814.3,324.9 L1819.3,324.5 L1824.2,324.0 L1829.2,323.5 L1834.2,322.9 L1839.1,322.2 L1844.1,321.4 L1849.0,320.5 L1853.9,319.6 L1858.8,318.5 L1863.6,317.3 L1868.5,316.0 L1873.3,314.6 L1878.0,313.1 L1882.7,311.5 L1887.4,309.7 L1892.0,307.7 L1896.5,305.5 L1900.8,303.1 L1905.1,300.5 L1909.2,297.7 L1913.2,294.7 L1917.2,291.6 L1921.0,288.4 L1924.9,285.2 L1928.6,282.0 L1932.4,278.6 L1936.1,275.3 L1939.7,271.8 L1943.2,268.3 L1946.7,264.7 L1950.0,260.9 L1953.2,257.1 L1956.4,253.2 L1959.4,249.3 L1962.4,245.3 L1965.3,241.2 L1968.2,237.1 L1971.0,233.0 L1973.8,228.8 L1976.6,224.7 L1979.3,220.5 L1981.0,218.0 L1980.8,223.0 L1980.7,228.0 L1980.5,233.0 L1980.3,238.0 L1980.2,243.0 L1980.0,248.0 L1979.7,253.0 L1979.5,258.0 L1979.2,263.0 L1978.8,268.0 L1978.4,272.9 L1978.0,277.9 L1977.5,282.9 L1977.0,287.9 L1976.4,292.8 L1975.7,297.8 L1975.0,302.8 L1974.1,307.7 L1973.2,312.6 L1972.1,317.5 L1971.0,322.3 L1969.7,327.2 L1968.4,332.0 L1967.0,336.8 L1965.5,341.6 L1963.8,346.3 L1962.2,351.0 L1960.6,355.7 L1959.3,360.5 L1958.3,365.4 L1957.5,370.3 L1956.9,375.3 L1956.3,380.3 L1955.6,385.2 L1954.8,390.1 L1953.8,395.0 L1952.6,399.9 L1951.2,404.7 L1949.7,409.4 L1948.1,414.2 L1946.5,418.9 L1944.7,423.6 L1942.8,428.2 L1940.8,432.8 L1938.7,437.3 L1936.5,441.8 L1934.0,446.2 L1931.5,450.5 L1928.8,454.7 L1926.0,458.8 L1923.1,462.9 L1920.1,466.9 L1917.0,470.8 L1913.8,474.6 L1910.4,478.3 L1906.8,481.8 L1903.1,485.0 L1899.1,488.0 L1894.9,490.6 L1890.4,492.9 L1885.9,494.8 L1881.2,496.5 L1876.4,498.1 L1871.6,499.5 L1866.8,500.8 L1861.9,502.0 L1857.1,503.1 L1852.2,504.2 L1847.3,505.2 L1842.4,506.1 L1837.5,507.0 L1832.5,507.9 L1827.6,508.7 L1822.7,509.5 L1817.7,510.3 L1812.8,511.0 L1807.8,511.7 L1802.9,512.4 L1797.9,513.0 L1792.9,513.6 L1788.0,514.1 L1783.0,514.6 L1778.0,515.1 L1773.0,515.5 L1768.0,516.0 L1763.0,516.4 L1758.1,516.7 L1753.1,517.1 L1748.1,517.4 L1743.1,517.7 L1738.1,518.0 L1733.1,518.2 L1728.1,518.5 L1723.1,518.8 L1718.1,519.0 L1713.1,519.3 L1708.1,519.5 L1703.1,519.8 L1698.1,520.1 L1693.1,520.4 L1688.1,520.7 L1683.2,521.0 L1678.2,521.3 L1673.2,521.6 L1668.2,521.9 L1663.2,522.2 L1658.2,522.5 L1653.2,522.8 L1648.2,523.1 L1643.2,523.5 L1638.2,523.8 L1633.2,524.1 L1628.2,524.4 L1623.3,524.8 L1618.3,525.1 L1613.3,525.4 L1608.3,525.7 L1603.3,526.0 L1598.3,526.3 L1593.3,526.6 L1588.3,527.0 L1583.3,527.3 L1578.3,527.7 L1573.3,528.1 L1568.4,528.5 L1563.4,529.1 L1558.4,529.6 L1553.5,530.3 L1548.5,531.0 L1543.6,531.8 L1538.6,532.6 L1533.7,533.5 L1528.8,534.4 L1523.9,535.4 L1519.0,536.4 L1514.1,537.4 L1509.2,538.4 L1504.3,539.4 L1499.4,540.4 L1494.5,541.4 L1489.6,542.4 L1484.7,543.3 L1479.8,544.3 L1474.9,545.2 L1469.9,546.2 L1465.0,547.1 L1460.1,548.1 L1455.2,549.1 L1450.3,550.0 L1445.4,551.0 L1440.5,552.0 L1435.6,552.9 L1430.7,553.9 L1425.8,554.9 L1420.9,555.8 L1416.0,556.8 L1411.1,557.8 L1406.1,558.7 L1401.2,559.7 L1396.3,560.7 L1391.4,561.7 L1386.5,562.7 L1381.6,563.7 L1376.7,564.6 L1371.8,565.6 L1366.9,566.7 L1362.1,567.8 L1357.2,569.0 L1352.4,570.3 L1347.6,571.7 L1342.8,573.1 L1338.0,574.7 L1333.4,576.4 L1328.7,578.3 L1324.2,580.4 L1319.7,582.6 L1315.3,585.0 L1311.0,587.5 L1306.8,590.2 L1302.6,592.9 L1298.5,595.7 L1294.4,598.7 L1290.5,601.8 L1286.6,604.9 L1282.8,608.1 L1279.0,611.5 L1275.4,614.8 L1271.7,618.3 L1268.2,621.8 L1264.7,625.3 L1261.2,629.0 L1257.8,632.6 L1254.5,636.4 L1251.2,640.1 L1248.0,644.0 L1244.8,647.8 L1241.7,651.7 L1238.6,655.7 L1235.6,659.7 L1232.7,663.8 L1229.8,667.8 L1227.1,672.0 L1224.3,676.2 L1221.7,680.5 L1219.1,684.7 L1216.6,689.1 L1214.1,693.4 L1211.5,697.7 L1209.0,702.0 L1206.4,706.3 L1203.8,710.5 L1201.2,714.8 L1198.6,719.1 L1196.1,723.4 L1193.5,727.7 L1191.0,732.0 L1188.5,736.4 L1186.1,740.7 L1183.7,745.1 L1181.3,749.5 L1178.9,753.9 L1176.6,758.3 L1174.3,762.8 L1172.1,767.3 L1169.9,771.8 L1167.8,776.3 L1165.7,780.8 L1163.7,785.4 L1161.8,790.0 L1159.9,794.7 L1158.0,799.3 L1156.2,804.0 L1154.4,808.6 L1152.6,813.3 L1150.8,818.0 L1149.1,822.7 L1147.3,827.4 L1145.6,832.1 L1143.8,836.7 L1142.1,841.4 L1140.3,846.1 L1138.5,850.8 L1136.8,855.4 L1135.0,860.1 L1133.2,864.8 L1131.5,869.5 L1129.7,874.2 L1127.8,878.8 L1125.9,883.4 L1123.9,888.0 L1121.7,892.5 L1119.4,896.9 L1117.1,901.4 L1114.7,905.8 L1112.3,910.1 L1109.9,914.5 L1107.5,918.9 L1105.2,923.4 L1102.9,927.8 L1100.5,932.2 L1098.1,936.6 L1095.5,940.8 L1092.8,945.0 L1089.8,949.1 L1086.8,953.0 L1083.5,956.7 L1079.9,960.1 L1076.0,963.1 L1071.7,965.5 L1067.2,967.1 L1062.5,967.8 L1057.7,967.4 L1053.2,966.0 L1048.9,963.8 L1044.9,960.9 L1041.2,957.5 L1037.8,953.9 L1034.6,950.1 L1031.6,946.1 L1028.7,942.1 L1025.9,937.9 L1023.2,933.7 L1020.6,929.4 L1018.1,925.1 L1015.7,920.7 L1013.2,916.3 L1010.9,912.0 L1008.5,907.5 L1006.2,903.1 L1004.0,898.6 L1001.8,894.1 L999.6,889.6 L997.4,885.1 L995.3,880.6 L993.1,876.1 L991.1,871.5 L989.0,867.0 L987.0,862.4 L985.0,857.8 L983.0,853.2 L980.9,848.7 L978.9,844.1 L976.7,839.6 L974.6,835.1 L972.4,830.6 L970.2,826.1 L967.9,821.6 L965.7,817.2 L963.4,812.7 L961.1,808.2 L958.9,803.8 L956.6,799.3 L954.3,794.9 L952.0,790.4 L949.7,786.0 L947.4,781.5 L945.1,777.1 L942.8,772.7 L940.5,768.2 L938.3,763.8 L936.0,759.3 L933.7,754.9 L931.4,750.4 L929.1,746.0 L926.9,741.5 L924.7,737.0 L922.4,732.5 L920.2,728.0 L918.1,723.5 L915.9,719.0 L913.8,714.5 L911.8,709.9 L909.7,705.3 L907.8,700.8 L905.8,696.1 L903.9,691.5 L902.0,686.9 L900.1,682.3 L898.3,677.6 L896.4,673.0 L894.5,668.4 L892.6,663.7 L890.7,659.1 L888.7,654.5 L886.8,649.9 L884.9,645.2 L882.9,640.7 L880.7,636.2 L878.3,631.8 L875.7,627.6 L872.8,623.6 L869.6,619.7 L866.2,616.0 L862.7,612.5 L859.0,609.2 L855.1,606.0 L851.1,603.1 L846.9,600.4 L842.5,598.1 L838.0,596.1 L833.3,594.4 L828.5,593.2 L823.6,592.3 L818.6,591.7 L813.6,591.4 L808.7,591.4 L803.7,591.6 L798.7,592.1 L793.8,592.9 L788.9,593.8 L784.2,595.2 L779.6,597.1 L775.4,599.5 L771.5,602.5 L767.9,606.0 L764.6,609.7 L761.5,613.6 L758.5,617.6 L755.7,621.8 L753.1,626.0 L750.6,630.3 L748.3,634.8 L746.1,639.3 L744.1,643.8 L742.1,648.4 L740.3,653.1 L738.5,657.7 L736.7,662.4 L735.0,667.1 L733.3,671.8 L731.7,676.5 L730.0,681.3 L728.4,686.0 L726.7,690.7 L724.9,695.4 L723.0,700.0 L721.0,704.6 L718.8,709.1 L716.4,713.4 L713.5,717.2 L710.0,720.3 L705.8,722.4 L701.1,723.5 L696.3,723.9 L691.3,723.9 L686.3,724.0 L681.3,724.2 L676.4,724.6 L671.4,725.2 L666.5,726.0 L661.6,727.0 L656.9,728.4 L652.3,730.3 L648.1,732.8 L644.3,735.9 L640.8,739.4 L637.5,743.2 L634.4,747.1 L631.4,751.1 L628.4,755.1 L625.5,759.2 L622.7,763.3 L620.1,767.5 L617.6,771.9 L615.3,776.3 L613.2,780.8 L611.3,785.4 L609.5,790.1 L607.8,794.8 L606.0,799.5 L604.3,804.2 L602.7,808.9 L601.0,813.6 L599.3,818.3 L597.7,823.1 L596.0,827.8 L594.4,832.5 L592.7,837.2 L591.0,841.9 L589.2,846.6 L587.5,851.3 L585.6,855.9 L583.7,860.6 L581.8,865.1 L579.7,869.7 L577.3,874.1 L574.6,878.1 L571.4,881.7 L567.6,884.4 L563.4,885.9 L559.1,885.7 L554.8,884.1 L550.9,881.4 L547.3,878.1 L543.9,874.4 L540.6,870.7 L537.5,866.8 L534.4,862.8 L531.4,858.8 L528.4,854.8 L525.3,850.9 L522.2,846.9 L519.1,843.0 L516.0,839.1 L512.8,835.3 L509.5,831.6 L505.9,828.2 L502.0,825.4 L497.7,823.1 L495.0,822.0 L495.1,817.0 L495.1,812.0 L495.2,807.0 L495.2,802.0 L495.2,797.0 L495.3,792.0 L495.3,787.0 L495.4,782.0 L495.4,777.0 L495.4,772.0 L495.5,767.0 L495.5,762.0 L495.5,757.0 L495.5,752.0 L495.6,747.0 L495.6,742.0 L495.7,737.0 L495.7,731.9 L495.7,726.9 L495.8,721.9 L495.8,716.9 L495.9,711.9 L495.9,706.9 L496.0,701.9 L496.1,696.9 L496.1,691.9 L496.2,686.9 L496.3,681.9 L496.4,676.9 L496.5,671.9 L496.6,666.9 L496.7,661.9 L496.8,656.9 L497.0,651.9 L497.1,646.9 L497.3,641.9 L497.4,636.9 L497.6,631.9 L497.8,626.9 L498.0,621.9 L498.2,616.9 L498.5,611.9 L498.7,606.9 L498.9,601.9 L499.2,596.9 L499.4,591.9 L499.7,586.9 L499.9,581.9 L500.2,576.9 L500.4,571.9 L500.7,566.9 L501.0,561.9 L501.2,557.0 L501.5,552.0 L501.7,547.0 L502.0,542.0 L502.2,537.0 L502.5,532.0 L502.7,527.0 L502.9,522.0 L503.1,517.0 L503.2,512.0 L503.4,507.0 L503.5,502.0 L503.6,497.0 L503.7,492.0 L503.8,487.0 L503.9,482.0 L504.1,477.0 L504.3,472.0 L504.6,467.0 L504.9,462.0 L505.4,457.0 L506.0,452.0 L506.7,447.1 L507.6,442.2 L508.7,437.3 L510.1,432.5 L511.8,427.8 L513.6,423.2 L515.5,418.5 L517.3,413.9 L519.0,409.2 L520.6,404.5 L521.9,399.7 L523.0,394.8 L523.8,389.9 L524.6,384.9 L525.4,380.0 L526.3,375.1 L527.3,370.2 L528.3,365.3 L529.2,360.4 L530.2,355.5 L531.2,350.6 L532.3,345.7 L533.4,340.8 L534.6,335.9 L535.9,331.1 L537.4,326.3 L539.0,321.6 L541.0,317.0 L543.2,312.6 L545.6,308.2 L548.1,303.9 L550.6,299.6 L552.9,295.2 L555.2,290.7 L557.5,286.3 L560.0,281.9 L562.4,277.6 L564.8,273.2 L567.1,268.7 L569.3,264.3 L571.5,259.8 L573.8,255.3 L576.0,250.8 L578.2,246.4 L580.5,241.9 L582.7,237.4 L585.0,233.0 L587.5,228.7 L590.4,224.6 L593.6,221.0 L597.3,217.9 L601.5,215.8 L606.0,214.8 L610.4,215.3 L614.6,217.1 L618.4,220.1 L621.7,223.7 L624.6,227.7 L627.1,231.9 L629.4,236.4 L631.5,240.9 L633.5,245.5 L635.2,250.2 L637.0,254.9 L638.7,259.6 L640.5,264.2 L642.5,268.8 L644.7,273.3 L647.0,277.7 L649.5,282.0 L652.4,286.0 L655.7,289.7 L659.4,292.9 L663.5,295.5 L668.0,297.6 L672.7,299.0 L677.6,299.7 L682.5,300.1 L687.5,300.0 L692.5,299.7 L697.4,299.1 L702.3,298.1 L707.0,296.6 L711.5,294.7 L716.0,292.5 L720.4,290.3 L725.0,288.5 L729.6,287.6 L734.1,288.0 L738.4,289.6 L742.1,292.5 L745.1,296.1 L747.6,300.4 L749.6,304.9 L751.4,309.6 L753.0,314.3 L754.7,319.0 L756.4,323.7 L758.1,328.4 L759.8,333.1 L761.5,337.8 L763.1,342.5 L764.6,347.3 L766.1,352.1 L767.5,356.9 L768.9,361.7 L770.3,366.5 L771.9,371.2 L773.7,375.9 L775.6,380.5 L777.6,385.1 L779.5,389.7 L781.3,394.4 L783.0,399.1 L784.6,403.8 L786.2,408.6 L787.8,413.3 L789.6,418.0 L791.6,422.5 L794.0,426.9 L796.6,431.1 L799.6,435.1 L802.7,439.0 L806.0,442.7 L809.5,446.3 L813.1,449.8 L816.8,453.2 L820.5,456.5 L824.4,459.6 L828.4,462.6 L832.5,465.4 L836.8,468.1 L841.1,470.6 L845.5,472.9 L850.0,475.2 L854.5,477.4 L859.0,479.6 L863.5,481.7 L868.0,483.8 L872.7,485.5 L877.4,487.0 L882.3,488.1 L887.2,488.9 L892.2,489.6 L897.1,490.1 L902.1,490.6 L907.1,491.0 L912.1,491.4 L917.1,491.7 L922.1,491.9 L927.1,492.2 L932.1,492.4 L937.1,492.6 L942.1,492.8 L947.1,492.9 L952.1,493.0 L957.1,493.1 L962.1,493.1 L967.1,493.1 L972.1,493.0 L977.1,492.9 L982.1,492.7 L987.1,492.6 L992.1,492.4 L997.1,492.2 L1002.1,491.9 L1007.1,491.7 L1012.1,491.5 L1017.1,491.2 L1022.1,491.0 L1027.1,490.7 L1032.1,490.5 L1037.1,490.2 L1042.1,489.9 L1047.1,489.6 L1052.0,489.2 L1057.0,488.9 L1062.0,488.6 L1067.0,488.2 L1072.0,487.9 L1077.0,487.6 L1078.0,487.5" fill="none" stroke="#ff0000" stroke-width="10" stroke-linejoin="round" stroke-linecap="butt"/>
<path d="M1078.0,507.0 L1083.0,506.9 L1088.0,506.7 L1093.0,506.4 L1098.0,506.0 L1102.9,505.4 L1107.9,504.6 L1112.8,503.6 L1117.7,502.6 L1122.6,501.5 L1127.4,500.5 L1132.4,499.5 L1137.3,498.6 L1142.2,497.8 L1147.2,497.0 L1152.1,496.4 L1157.1,495.8 L1162.1,495.3 L1167.0,494.8 L1172.0,494.3 L1177.0,493.7 L1182.0,493.2 L1186.9,492.6 L1191.9,492.0 L1196.9,491.3 L1201.8,490.5 L1206.7,489.5 L1211.6,488.5 L1216.5,487.4 L1221.3,486.2 L1226.1,484.8 L1230.9,483.4 L1235.7,481.9 L1240.4,480.3 L1245.1,478.6 L1249.8,476.7 L1254.4,474.7 L1258.9,472.6 L1263.4,470.3 L1267.8,468.0 L1272.2,465.6 L1276.6,463.2 L1281.0,460.8 L1285.4,458.4 L1289.7,456.0 L1294.1,453.6 L1298.5,451.1 L1302.8,448.7 L1307.2,446.3 L1311.6,443.8 L1315.9,441.3 L1320.1,438.7 L1324.3,435.9 L1328.3,432.9 L1332.2,429.8 L1336.1,426.6 L1339.8,423.2 L1343.4,419.8 L1346.9,416.2 L1350.4,412.7 L1353.9,409.1 L1357.4,405.5 L1360.9,401.9 L1364.5,398.4 L1368.1,394.9 L1371.8,391.6 L1375.5,388.3 L1379.3,385.0 L1383.2,381.9 L1387.2,378.9 L1391.3,376.0 L1395.5,373.3 L1399.8,370.8 L1404.2,368.5 L1408.7,366.3 L1413.3,364.4 L1418.0,362.6 L1422.7,360.9 L1427.5,359.4 L1432.3,358.1 L1437.2,356.8 L1442.0,355.7 L1446.9,354.6 L1451.8,353.6 L1456.7,352.6 L1461.6,351.7 L1466.6,350.9 L1471.5,350.1 L1476.5,349.5 L1481.4,348.9 L1486.4,348.5 L1491.4,348.2 L1496.4,348.0 L1501.4,347.9 L1506.4,347.9 L1511.4,348.0 L1516.4,348.2 L1521.4,348.4 L1526.4,348.6 L1531.4,348.9 L1536.4,349.2 L1541.4,349.5 L1546.4,350.0 L1551.3,350.6 L1556.3,351.3 L1561.2,352.1 L1566.1,353.1 L1571.0,354.3 L1575.8,355.6 L1580.6,357.0 L1585.4,358.4 L1590.2,359.7 L1595.1,361.0 L1599.9,362.2 L1604.8,363.3 L1609.7,364.2 L1614.7,365.0 L1619.6,365.8 L1624.6,366.5 L1629.5,367.1 L1634.5,367.7 L1639.5,368.3 L1644.4,368.8 L1649.4,369.3 L1654.4,369.8 L1659.4,370.2 L1664.4,370.6 L1669.4,371.0 L1674.4,371.4 L1679.3,371.8 L1684.3,372.1 L1689.3,372.4 L1694.3,372.7 L1699.3,373.0 L1704.3,373.2 L1709.3,373.4 L1714.3,373.6 L1719.3,373.7 L1724.3,373.8 L1729.3,373.9 L1734.3,373.9 L1739.3,373.9 L1744.3,373.9 L1749.3,373.9 L1754.4,373.9 L1759.4,373.9 L1764.4,373.9 L1769.4,373.9 L1774.4,373.9 L1779.4,373.9 L1784.4,374.0 L1789.4,374.1 L1794.4,374.2 L1799.4,374.4 L1804.4,374.7 L1809.4,374.9 L1814.4,374.9 L1819.4,374.8 L1824.4,374.6 L1829.3,374.2 L1834.3,373.7 L1839.3,373.1 L1844.2,372.4 L1849.2,371.6 L1854.1,370.8 L1859.0,369.9 L1864.0,369.0 L1868.9,368.1 L1873.8,367.1 L1878.7,366.0 L1883.5,364.9 L1888.4,363.7 L1893.2,362.4 L1898.1,361.1 L1902.9,359.6 L1907.6,358.1 L1912.4,356.5 L1917.1,354.8 L1921.8,353.1 L1926.4,351.2 L1931.0,349.2 L1935.5,347.0 L1939.9,344.7 L1944.2,342.2 L1948.5,339.6 L1952.8,337.0 L1957.0,334.4 L1961.3,331.7 L1965.4,329.0 L1969.4,326.0 L1973.2,322.7 L1976.8,319.3 L1980.3,315.7 L1981.0,315.0 L1980.6,320.0 L1980.3,325.0 L1979.9,330.0 L1979.4,334.9 L1978.9,339.9 L1978.3,344.9 L1977.6,349.8 L1976.9,354.8 L1976.0,359.7 L1975.1,364.6 L1974.1,369.5 L1973.1,374.4 L1972.0,379.3 L1970.8,384.1 L1969.6,389.0 L1968.3,393.8 L1967.0,398.6 L1965.6,403.5 L1964.2,408.3 L1962.8,413.1 L1961.4,417.8 L1959.8,422.6 L1958.1,427.3 L1956.2,431.9 L1954.2,436.5 L1951.9,440.9 L1949.4,445.2 L1946.7,449.4 L1943.8,453.4 L1940.7,457.4 L1937.5,461.2 L1934.1,464.9 L1930.6,468.5 L1927.0,471.9 L1923.3,475.2 L1919.4,478.4 L1915.4,481.3 L1911.2,484.0 L1906.9,486.6 L1902.5,488.9 L1898.0,491.0 L1893.4,493.0 L1888.7,494.8 L1884.0,496.5 L1879.2,497.9 L1874.4,499.2 L1869.5,500.2 L1864.6,501.2 L1859.7,502.0 L1854.7,502.7 L1849.8,503.3 L1844.8,503.9 L1839.8,504.4 L1834.9,504.9 L1829.9,505.3 L1824.9,505.6 L1819.9,506.0 L1814.9,506.3 L1809.9,506.5 L1804.9,506.7 L1799.9,506.9 L1794.9,507.0 L1789.9,507.2 L1784.9,507.4 L1779.9,507.5 L1774.9,507.7 L1769.9,507.9 L1764.9,508.2 L1759.9,508.4 L1755.0,508.7 L1750.0,509.0 L1745.0,509.3 L1740.0,509.6 L1735.0,509.9 L1730.0,510.2 L1725.0,510.5 L1720.0,510.8 L1715.0,511.1 L1710.0,511.4 L1705.0,511.8 L1700.0,512.1 L1695.1,512.4 L1690.1,512.7 L1685.1,513.0 L1680.1,513.4 L1675.1,513.7 L1670.1,514.0 L1665.1,514.3 L1660.1,514.6 L1655.1,514.9 L1650.1,515.2 L1645.1,515.5 L1640.2,515.7 L1635.2,516.0 L1630.2,516.3 L1625.2,516.6 L1620.2,517.0 L1615.2,517.5 L1610.2,517.9 L1605.3,518.4 L1600.3,518.9 L1595.3,519.4 L1590.3,520.0 L1585.4,520.5 L1580.4,521.1 L1575.4,521.6 L1570.5,522.2 L1565.5,522.8 L1560.5,523.4 L1555.6,524.0 L1550.6,524.6 L1545.6,525.3 L1540.7,525.9 L1535.7,526.6 L1530.8,527.3 L1525.8,528.0 L1520.9,528.8 L1515.9,529.5 L1511.0,530.3 L1506.1,531.1 L1501.1,532.0 L1496.2,532.8 L1491.3,533.6 L1486.3,534.4 L1481.4,535.3 L1476.5,536.1 L1471.6,537.0 L1466.6,537.8 L1461.7,538.7 L1456.8,539.5 L1451.9,540.4 L1446.9,541.3 L1442.0,542.2 L1437.1,543.1 L1432.2,544.1 L1427.3,545.0 L1422.4,546.0 L1417.5,547.0 L1412.6,548.0 L1407.7,549.1 L1402.8,550.1 L1397.9,551.1 L1393.0,552.3 L1388.2,553.4 L1383.3,554.7 L1378.5,556.1 L1373.8,557.6 L1369.0,559.2 L1364.4,561.0 L1359.8,562.9 L1355.2,564.9 L1350.7,567.0 L1346.2,569.3 L1341.8,571.6 L1337.4,574.0 L1333.0,576.5 L1328.7,579.0 L1324.5,581.6 L1320.3,584.4 L1316.2,587.2 L1312.2,590.2 L1308.2,593.2 L1304.3,596.4 L1300.5,599.6 L1296.8,603.0 L1293.2,606.4 L1289.6,609.9 L1286.2,613.5 L1282.8,617.2 L1279.4,620.9 L1276.2,624.7 L1273.1,628.6 L1270.1,632.6 L1267.2,636.7 L1264.4,640.8 L1261.6,645.0 L1259.0,649.2 L1256.3,653.5 L1253.7,657.7 L1251.0,662.0 L1248.4,666.2 L1245.7,670.4 L1243.0,674.6 L1240.3,678.8 L1237.6,683.0 L1234.9,687.3 L1232.2,691.5 L1229.6,695.7 L1226.9,700.0 L1224.3,704.2 L1221.7,708.5 L1219.1,712.7 L1216.5,717.0 L1213.9,721.3 L1211.3,725.6 L1208.8,729.9 L1206.3,734.2 L1203.8,738.6 L1201.4,742.9 L1198.9,747.3 L1196.5,751.7 L1194.1,756.0 L1191.7,760.4 L1189.4,764.9 L1187.1,769.3 L1184.9,773.8 L1182.9,778.4 L1180.9,783.0 L1179.0,787.6 L1177.3,792.3 L1175.6,797.0 L1174.0,801.7 L1172.4,806.5 L1170.8,811.2 L1169.2,816.0 L1167.6,820.7 L1165.9,825.4 L1164.1,830.1 L1162.2,834.7 L1160.1,839.2 L1157.9,843.7 L1155.5,848.0 L1152.9,852.3 L1150.2,856.5 L1147.4,860.7 L1144.6,864.8 L1141.8,869.0 L1139.0,873.1 L1136.3,877.3 L1133.3,881.3 L1130.2,885.1 L1126.6,888.5 L1122.6,891.3 L1118.3,893.4 L1113.6,894.6 L1108.9,894.8 L1104.2,893.9 L1099.8,892.1 L1095.7,889.5 L1092.0,886.2 L1088.8,882.5 L1085.9,878.4 L1083.2,874.3 L1080.6,870.0 L1078.1,865.7 L1075.6,861.3 L1073.3,856.9 L1071.0,852.5 L1068.8,848.0 L1066.7,843.5 L1064.6,838.9 L1062.6,834.3 L1060.7,829.7 L1058.9,825.0 L1057.1,820.4 L1055.4,815.7 L1053.6,811.0 L1051.9,806.3 L1050.2,801.6 L1048.4,796.9 L1046.7,792.2 L1044.9,787.5 L1043.1,782.9 L1041.3,778.2 L1039.5,773.6 L1037.6,768.9 L1035.7,764.3 L1033.7,759.7 L1031.7,755.1 L1029.7,750.5 L1027.7,746.0 L1025.7,741.4 L1023.7,736.8 L1021.7,732.2 L1019.6,727.7 L1017.7,723.1 L1015.7,718.5 L1013.8,713.9 L1011.9,709.2 L1010.0,704.6 L1008.2,699.9 L1006.4,695.3 L1004.6,690.6 L1002.7,686.0 L1000.7,681.4 L998.7,676.8 L996.5,672.3 L994.3,667.9 L991.9,663.5 L989.4,659.1 L986.9,654.8 L984.2,650.6 L981.6,646.3 L978.9,642.1 L976.1,638.0 L973.3,633.8 L970.5,629.7 L967.6,625.6 L964.8,621.5 L961.9,617.4 L958.9,613.4 L955.9,609.4 L952.9,605.4 L949.7,601.6 L946.4,597.8 L942.9,594.2 L939.3,590.8 L935.6,587.4 L931.8,584.2 L927.9,581.0 L924.0,578.0 L920.0,575.0 L915.9,572.1 L911.8,569.3 L907.6,566.6 L903.3,563.9 L899.0,561.4 L894.6,559.0 L890.2,556.7 L885.7,554.6 L881.1,552.6 L876.5,550.7 L871.8,549.0 L867.0,547.5 L862.2,546.2 L857.3,545.1 L852.4,544.1 L847.5,543.3 L842.5,542.7 L837.6,542.1 L832.6,541.7 L827.6,541.4 L822.6,541.3 L817.7,541.5 L812.7,542.1 L807.9,543.2 L803.1,544.5 L798.4,546.1 L793.8,548.0 L789.3,550.3 L785.1,552.9 L781.1,555.9 L777.4,559.1 L773.9,562.7 L770.8,566.5 L768.0,570.7 L765.6,575.0 L763.3,579.4 L761.2,584.0 L759.2,588.5 L757.2,593.1 L755.3,597.7 L753.4,602.4 L751.6,607.0 L749.8,611.7 L748.1,616.4 L746.5,621.1 L745.0,625.9 L743.7,630.7 L742.4,635.5 L741.0,640.3 L739.4,645.0 L737.4,649.5 L734.7,653.4 L731.3,656.5 L727.3,658.4 L723.0,658.7 L718.7,657.4 L714.6,655.0 L710.7,652.0 L706.9,648.8 L702.9,645.9 L698.7,643.4 L694.2,641.5 L689.5,640.4 L684.7,640.1 L680.0,640.8 L675.4,642.5 L671.1,644.8 L667.0,647.6 L663.1,650.7 L659.4,654.0 L655.8,657.5 L652.4,661.1 L649.2,665.0 L646.2,669.0 L643.5,673.1 L641.0,677.4 L638.8,681.9 L636.9,686.5 L635.3,691.2 L633.8,696.0 L632.4,700.8 L630.9,705.5 L629.3,710.3 L627.6,715.0 L625.9,719.7 L624.4,724.4 L623.0,729.2 L621.8,734.0 L620.6,738.9 L619.4,743.7 L618.1,748.6 L616.8,753.4 L615.5,758.2 L614.2,763.1 L612.8,767.9 L611.3,772.6 L609.7,777.4 L608.1,782.1 L606.2,786.6 L603.7,790.7 L600.6,794.1 L596.7,796.2 L592.5,796.8 L588.1,795.7 L584.0,793.5 L580.1,790.6 L576.2,787.4 L572.4,784.2 L568.5,781.1 L564.6,777.9 L560.7,774.8 L556.8,771.7 L552.8,768.7 L548.7,765.9 L544.5,763.1 L540.2,760.6 L535.7,758.4 L531.2,756.6 L526.4,755.3 L521.6,754.8 L516.7,755.0 L511.8,755.7 L506.9,756.5 L501.9,757.3 L497.0,757.8 L495.0,758.0 L495.0,753.0 L495.1,748.0 L495.1,743.0 L495.1,738.0 L495.1,733.0 L495.1,728.0 L495.1,723.0 L495.1,718.0 L495.2,713.0 L495.2,708.0 L495.2,703.0 L495.2,698.0 L495.2,693.0 L495.2,688.0 L495.2,683.0 L495.2,678.0 L495.3,673.0 L495.3,668.0 L495.3,663.0 L495.4,658.0 L495.4,653.0 L495.5,648.0 L495.5,643.0 L495.6,638.0 L495.7,633.0 L495.8,628.0 L495.9,623.0 L496.1,618.0 L496.2,613.0 L496.4,608.0 L496.6,603.0 L496.8,598.0 L497.1,593.0 L497.3,588.0 L497.6,583.0 L497.8,578.0 L498.1,573.0 L498.4,568.0 L498.7,563.0 L499.0,558.1 L499.2,553.1 L499.5,548.1 L499.8,543.1 L500.1,538.1 L500.3,533.1 L500.6,528.1 L500.8,523.1 L501.1,518.1 L501.3,513.1 L501.6,508.1 L501.9,503.1 L502.3,498.1 L502.8,493.2 L503.3,488.2 L503.9,483.2 L504.6,478.3 L505.4,473.4 L506.3,468.4 L507.3,463.6 L508.5,458.7 L509.9,453.9 L511.5,449.2 L513.2,444.5 L515.2,439.9 L517.1,435.3 L518.9,430.7 L520.2,425.9 L521.3,421.1 L522.3,416.2 L523.5,411.4 L525.1,406.7 L527.0,402.1 L529.3,397.7 L531.8,393.4 L534.5,389.2 L537.3,385.0 L540.1,380.9 L542.8,376.7 L545.5,372.5 L548.2,368.3 L550.9,364.0 L553.5,359.8 L556.1,355.5 L558.7,351.2 L561.2,346.9 L563.7,342.6 L566.2,338.3 L568.7,333.9 L571.3,329.6 L573.9,325.4 L576.6,321.2 L579.4,317.0 L582.2,312.9 L585.0,308.8 L587.7,304.6 L590.4,300.3 L592.8,296.0 L595.2,291.6 L597.6,287.2 L600.1,282.9 L603.0,279.0 L606.4,275.7 L610.4,273.4 L614.6,272.7 L618.7,273.6 L622.4,276.1 L625.6,279.6 L628.1,283.7 L630.3,288.2 L632.2,292.8 L634.0,297.5 L635.8,302.1 L637.6,306.8 L639.6,311.4 L641.6,316.0 L643.7,320.5 L645.8,325.0 L648.1,329.5 L650.5,333.9 L652.9,338.2 L655.6,342.4 L658.6,346.3 L662.1,349.6 L666.1,352.0 L670.7,353.5 L675.4,354.1 L680.3,353.9 L685.2,353.0 L690.0,351.9 L694.8,350.6 L699.5,349.1 L703.9,347.1 L707.9,344.4 L711.2,341.0 L714.0,337.0 L716.6,332.7 L719.3,328.6 L722.3,324.6 L725.6,321.0 L729.3,317.9 L733.3,315.9 L737.5,315.5 L741.5,316.8 L744.9,319.6 L747.8,323.4 L749.9,327.7 L751.5,332.4 L752.7,337.2 L753.8,342.1 L754.8,347.0 L755.9,351.9 L757.0,356.8 L758.0,361.7 L759.1,366.5 L760.1,371.4 L761.2,376.3 L762.3,381.2 L763.3,386.1 L764.4,391.0 L765.4,395.9 L766.5,400.7 L767.7,405.6 L769.0,410.4 L770.5,415.2 L772.2,419.9 L774.1,424.5 L776.2,429.0 L778.5,433.4 L781.0,437.8 L783.8,441.9 L786.7,445.9 L790.0,449.7 L793.5,453.2 L797.3,456.5 L801.2,459.6 L805.2,462.5 L809.3,465.4 L813.4,468.3 L817.5,471.0 L821.8,473.7 L826.1,476.2 L830.5,478.5 L835.0,480.6 L839.6,482.6 L844.3,484.3 L849.1,485.9 L853.8,487.3 L858.7,488.6 L863.5,489.7 L868.4,490.8 L873.3,491.8 L878.2,492.7 L883.2,493.4 L888.1,494.1 L893.1,494.7 L898.1,495.2 L903.0,495.7 L908.0,496.0 L913.0,496.4 L918.0,496.6 L923.0,496.8 L928.0,497.0 L933.0,497.2 L938.0,497.3 L943.0,497.5 L948.0,497.6 L953.0,497.7 L958.0,497.8 L963.0,497.9 L968.0,498.0 L973.0,498.1 L978.0,498.2 L983.0,498.2 L988.0,498.3 L993.0,498.3 L998.0,498.3 L1003.0,498.3 L1008.0,498.3 L1013.0,498.3 L1018.0,498.3 L1023.0,498.2 L1028.0,498.2 L1033.0,498.2 L1038.0,498.2 L1043.0,498.1 L1048.0,498.1 L1053.0,498.1 L1058.0,498.1 L1063.0,498.0 L1068.0,498.0 L1073.0,498.0 L1078.0,498.0" fill="none" stroke="#0000ff" stroke-width="10" stroke-linejoin="round" stroke-linecap="butt"/>
<path d="M1076.0,505.0 L1080.3,502.4 L1084.5,499.8 L1088.9,497.3 L1093.3,495.1 L1097.9,493.1 L1102.6,491.4 L1107.3,489.8 L1112.1,488.4 L1116.9,487.1 L1121.8,485.8 L1126.6,484.5 L1131.5,483.2 L1136.3,482.0 L1141.1,480.7 L1146.0,479.5 L1150.8,478.3 L1155.7,477.1 L1160.5,475.9 L1165.4,474.6 L1170.2,473.4 L1175.0,472.0 L1179.8,470.6 L1184.6,469.0 L1189.3,467.3 L1193.9,465.5 L1198.6,463.6 L1203.1,461.5 L1207.6,459.3 L1212.0,457.0 L1216.4,454.6 L1220.7,452.1 L1224.9,449.4 L1229.0,446.6 L1233.0,443.6 L1236.9,440.4 L1240.6,437.0 L1244.1,433.5 L1247.5,429.9 L1250.8,426.1 L1254.1,422.3 L1257.3,418.5 L1260.4,414.6 L1263.5,410.6 L1266.5,406.7 L1269.5,402.7 L1272.5,398.6 L1275.4,394.5 L1278.2,390.4 L1281.0,386.3 L1283.8,382.1 L1286.5,377.9 L1289.2,373.7 L1291.9,369.5 L1294.6,365.3 L1297.3,361.1 L1300.1,356.9 L1302.8,352.7 L1305.6,348.5 L1308.3,344.4 L1311.0,340.2 L1313.8,336.0 L1316.5,331.8 L1319.2,327.6 L1321.9,323.4 L1324.7,319.2 L1327.4,315.0 L1330.1,310.8 L1332.8,306.6 L1335.5,302.4 L1338.1,298.1 L1340.8,293.9 L1343.4,289.7 L1346.1,285.4 L1348.8,281.2 L1351.6,277.1 L1354.6,273.1 L1357.6,269.1 L1360.7,265.2 L1364.0,261.4 L1367.4,257.8 L1371.1,254.4 L1374.9,251.2 L1378.9,248.3 L1383.1,245.5 L1387.3,242.8 L1391.6,240.3 L1396.0,238.0 L1400.5,235.8 L1405.1,233.8 L1409.7,231.9 L1414.5,230.2 L1419.2,228.7 L1424.0,227.3 L1428.8,226.0 L1433.7,224.8 L1438.6,223.7 L1443.5,222.7 L1448.4,221.8 L1453.3,221.0 L1458.3,220.3 L1463.2,219.6 L1468.2,219.1 L1473.2,218.7 L1478.2,218.4 L1483.1,218.4 L1488.1,218.6 L1493.1,219.1 L1498.0,219.8 L1502.9,220.7 L1507.8,221.8 L1512.7,223.0 L1517.5,224.4 L1522.2,225.9 L1527.0,227.6 L1531.6,229.3 L1536.2,231.2 L1540.8,233.2 L1545.4,235.2 L1550.0,237.3 L1554.6,239.3 L1559.2,241.2 L1563.8,243.0 L1568.5,244.7 L1573.3,246.3 L1578.0,247.9 L1582.8,249.3 L1587.6,250.7 L1592.4,252.1 L1597.2,253.4 L1602.1,254.7 L1606.9,255.9 L1611.8,257.1 L1616.7,258.2 L1621.6,259.2 L1626.5,260.1 L1631.4,261.0 L1636.4,261.7 L1641.3,262.3 L1646.3,262.8 L1651.3,263.3 L1656.3,263.7 L1661.2,264.1 L1666.2,264.4 L1671.2,264.7 L1676.2,265.0 L1681.2,265.2 L1686.2,265.4 L1691.2,265.7 L1696.2,265.9 L1701.2,266.1 L1706.2,266.3 L1711.2,266.5 L1716.2,266.6 L1721.2,266.8 L1726.2,266.9 L1731.2,267.0 L1736.2,267.1 L1741.2,267.1 L1746.2,267.1 L1751.2,267.1 L1756.2,267.0 L1761.2,266.9 L1766.2,266.8 L1771.2,266.6 L1776.2,266.4 L1781.2,266.2 L1786.2,265.9 L1791.2,265.5 L1796.2,265.1 L1801.1,264.7 L1806.1,264.3 L1811.1,263.9 L1816.1,263.4 L1821.1,262.9 L1826.0,262.4 L1831.0,261.7 L1835.9,261.0 L1840.9,260.1 L1845.8,259.1 L1850.6,257.9 L1855.4,256.5 L1860.2,255.0 L1864.9,253.3 L1869.5,251.5 L1874.1,249.5 L1878.7,247.5 L1883.1,245.2 L1887.6,242.9 L1891.9,240.4 L1896.1,237.8 L1900.3,235.0 L1904.5,232.2 L1908.6,229.4 L1912.6,226.4 L1916.6,223.4 L1920.5,220.3 L1924.3,217.0 L1928.0,213.7 L1931.6,210.2 L1935.0,206.6 L1938.2,202.8 L1941.3,198.8 L1944.1,194.7 L1946.8,190.5 L1949.4,186.2 L1951.8,181.9 L1954.1,177.4 L1956.4,173.0 L1958.5,168.4 L1960.5,163.8 L1962.4,159.2 L1964.3,154.6 L1966.2,150.0 L1968.2,145.4 L1970.3,140.9 L1972.4,136.3 L1974.5,131.8 L1976.6,127.2 L1978.7,122.7 L1980.0,120.0 L1979.7,125.0 L1979.5,130.0 L1979.2,135.0 L1978.9,140.0 L1978.7,145.0 L1978.3,150.0 L1978.0,154.9 L1977.5,159.9 L1977.1,164.9 L1976.6,169.9 L1976.1,174.9 L1975.5,179.8 L1975.0,184.8 L1974.5,189.8 L1974.1,194.8 L1973.6,199.7 L1973.2,204.7 L1972.8,209.7 L1972.4,214.7 L1972.1,219.7 L1971.7,224.7 L1971.3,229.7 L1970.9,234.7 L1970.5,239.6 L1970.1,244.6 L1969.7,249.6 L1969.2,254.6 L1968.6,259.5 L1968.0,264.5 L1967.3,269.5 L1966.5,274.4 L1965.6,279.3 L1964.7,284.2 L1963.7,289.1 L1962.8,294.0 L1961.8,299.0 L1960.9,303.9 L1960.1,308.8 L1959.5,313.8 L1958.9,318.7 L1958.3,323.7 L1957.9,328.7 L1957.3,333.7 L1956.8,338.6 L1956.1,343.6 L1955.2,348.5 L1954.2,353.4 L1953.0,358.2 L1951.6,363.0 L1950.1,367.8 L1948.4,372.5 L1946.7,377.2 L1945.0,381.9 L1943.2,386.6 L1941.4,391.2 L1939.7,395.9 L1938.0,400.6 L1936.3,405.3 L1934.6,410.0 L1932.9,414.8 L1931.2,419.4 L1929.4,424.1 L1927.5,428.7 L1925.5,433.3 L1923.4,437.9 L1921.2,442.3 L1918.8,446.7 L1916.3,451.0 L1913.7,455.3 L1911.0,459.5 L1908.1,463.6 L1905.2,467.7 L1902.1,471.6 L1898.9,475.4 L1895.5,479.0 L1891.9,482.4 L1888.0,485.6 L1883.9,488.4 L1879.6,490.9 L1875.1,493.1 L1870.5,495.1 L1865.9,496.8 L1861.1,498.4 L1856.3,499.8 L1851.5,501.0 L1846.6,502.2 L1841.7,503.2 L1836.8,504.1 L1831.9,505.0 L1827.0,505.8 L1822.0,506.7 L1817.1,507.5 L1812.2,508.3 L1807.2,509.1 L1802.3,509.9 L1797.3,510.6 L1792.4,511.4 L1787.5,512.1 L1782.5,512.9 L1777.6,513.6 L1772.6,514.3 L1767.7,515.1 L1762.7,515.8 L1757.8,516.5 L1752.8,517.2 L1747.9,517.9 L1742.9,518.7 L1738.0,519.4 L1733.0,520.1 L1728.1,520.7 L1723.1,521.4 L1718.1,522.0 L1713.2,522.6 L1708.2,523.2 L1703.2,523.7 L1698.3,524.2 L1693.3,524.7 L1688.3,525.2 L1683.3,525.7 L1678.3,526.1 L1673.4,526.5 L1668.4,526.9 L1663.4,527.3 L1658.4,527.7 L1653.4,528.0 L1648.4,528.2 L1643.4,528.5 L1638.4,528.6 L1633.4,528.8 L1628.4,529.0 L1623.4,529.3 L1618.4,529.7 L1613.5,530.1 L1608.5,530.5 L1603.5,531.0 L1598.5,531.5 L1593.6,532.1 L1588.6,532.6 L1583.6,533.2 L1578.6,533.8 L1573.7,534.4 L1568.7,535.1 L1563.8,535.8 L1558.8,536.5 L1553.9,537.2 L1548.9,537.9 L1544.0,538.7 L1539.0,539.5 L1534.1,540.3 L1529.2,541.2 L1524.3,542.0 L1519.3,542.9 L1514.4,543.9 L1509.5,544.8 L1504.6,545.8 L1499.7,546.8 L1494.8,547.8 L1489.9,548.8 L1485.0,549.9 L1480.2,551.0 L1475.3,552.2 L1470.4,553.4 L1465.6,554.6 L1460.7,555.9 L1455.9,557.1 L1451.1,558.4 L1446.2,559.7 L1441.4,560.9 L1436.6,562.2 L1431.7,563.5 L1426.9,564.7 L1422.0,565.9 L1417.2,567.1 L1412.3,568.3 L1407.4,569.4 L1402.6,570.6 L1397.7,571.8 L1392.9,573.1 L1388.1,574.6 L1383.4,576.1 L1378.6,577.7 L1374.0,579.5 L1369.3,581.3 L1364.8,583.4 L1360.3,585.6 L1355.9,588.0 L1351.6,590.5 L1347.4,593.2 L1343.2,596.0 L1339.2,598.9 L1335.1,601.9 L1331.2,604.9 L1327.2,608.0 L1323.4,611.2 L1319.5,614.4 L1315.8,617.7 L1312.1,621.0 L1308.4,624.4 L1304.8,627.9 L1301.3,631.5 L1297.9,635.1 L1294.6,638.9 L1291.3,642.7 L1288.2,646.5 L1285.1,650.5 L1282.1,654.5 L1279.1,658.5 L1276.1,662.5 L1273.2,666.5 L1270.2,670.6 L1267.2,674.6 L1264.2,678.6 L1261.2,682.5 L1258.1,686.5 L1255.0,690.4 L1251.9,694.4 L1248.9,698.3 L1246.0,702.4 L1243.1,706.5 L1240.4,710.7 L1237.7,714.9 L1235.1,719.2 L1232.5,723.5 L1230.0,727.8 L1227.5,732.1 L1225.1,736.5 L1222.6,740.8 L1220.2,745.2 L1217.7,749.6 L1215.3,753.9 L1212.9,758.3 L1210.6,762.7 L1208.2,767.2 L1206.0,771.6 L1203.8,776.1 L1201.7,780.7 L1199.7,785.2 L1197.7,789.8 L1195.8,794.4 L1193.9,799.1 L1192.1,803.8 L1190.3,808.4 L1188.6,813.1 L1186.9,817.8 L1185.2,822.5 L1183.5,827.2 L1181.8,831.9 L1180.2,836.7 L1178.6,841.4 L1176.9,846.1 L1175.4,850.9 L1173.8,855.6 L1172.3,860.4 L1170.8,865.2 L1169.3,869.9 L1167.7,874.7 L1166.2,879.4 L1164.5,884.2 L1162.9,888.9 L1161.3,893.6 L1159.6,898.3 L1157.9,903.0 L1156.2,907.7 L1154.5,912.5 L1152.8,917.2 L1151.2,921.9 L1149.5,926.6 L1147.8,931.3 L1146.1,936.0 L1144.5,940.7 L1142.9,945.5 L1141.2,950.2 L1139.6,954.9 L1138.0,959.7 L1136.4,964.4 L1134.9,969.2 L1133.3,973.9 L1131.7,978.6 L1130.2,983.4 L1128.6,988.1 L1127.0,992.9 L1125.4,997.6 L1123.9,1002.4 L1122.3,1007.1 L1120.8,1011.9 L1119.2,1016.7 L1117.7,1021.4 L1116.1,1026.2 L1114.6,1030.9 L1113.0,1035.7 L1111.4,1040.4 L1109.8,1045.2 L1108.2,1049.9 L1106.5,1054.6 L1104.9,1059.3 L1103.2,1064.0 L1101.5,1068.7 L1099.7,1073.4 L1098.0,1078.1 L1096.2,1082.8 L1094.4,1087.4 L1092.6,1092.1 L1090.6,1096.7 L1088.6,1101.3 L1086.5,1105.8 L1084.3,1110.3 L1082.0,1114.7 L1079.6,1119.1 L1077.1,1123.4 L1074.4,1127.6 L1071.4,1131.5 L1068.0,1135.1 L1064.3,1138.1 L1060.2,1140.2 L1055.8,1140.8 L1051.6,1139.8 L1047.7,1137.5 L1044.1,1134.2 L1041.0,1130.4 L1038.1,1126.3 L1035.5,1122.1 L1033.1,1117.7 L1030.8,1113.3 L1028.6,1108.8 L1026.6,1104.2 L1024.6,1099.6 L1022.7,1095.0 L1020.9,1090.3 L1019.1,1085.6 L1017.4,1080.9 L1015.7,1076.3 L1013.9,1071.6 L1012.3,1066.8 L1010.6,1062.1 L1009.0,1057.4 L1007.4,1052.7 L1005.8,1047.9 L1004.3,1043.1 L1002.8,1038.4 L1001.2,1033.6 L999.7,1028.8 L998.2,1024.1 L996.7,1019.3 L995.1,1014.6 L993.6,1009.8 L992.0,1005.1 L990.5,1000.3 L988.9,995.6 L987.3,990.8 L985.7,986.1 L984.1,981.3 L982.5,976.6 L981.0,971.8 L979.4,967.1 L977.8,962.4 L976.2,957.6 L974.6,952.9 L973.1,948.1 L971.5,943.4 L969.9,938.6 L968.3,933.9 L966.8,929.1 L965.2,924.4 L963.6,919.6 L962.0,914.9 L960.5,910.1 L958.9,905.4 L957.2,900.7 L955.6,895.9 L954.0,891.2 L952.3,886.5 L950.6,881.8 L948.9,877.1 L947.2,872.4 L945.5,867.7 L943.8,863.0 L942.1,858.3 L940.4,853.6 L938.8,848.9 L937.1,844.1 L935.5,839.4 L933.9,834.7 L932.3,829.9 L930.8,825.1 L929.3,820.4 L927.8,815.6 L926.3,810.8 L924.8,806.1 L923.4,801.3 L921.9,796.5 L920.4,791.7 L918.9,786.9 L917.4,782.2 L915.9,777.4 L914.4,772.6 L912.9,767.9 L911.3,763.1 L909.7,758.4 L908.1,753.7 L906.4,749.0 L904.7,744.3 L902.9,739.6 L901.2,734.9 L899.3,730.2 L897.5,725.6 L895.7,720.9 L893.8,716.3 L891.8,711.7 L889.9,707.1 L887.9,702.5 L885.9,697.9 L883.8,693.4 L881.7,688.8 L879.6,684.3 L877.4,679.8 L875.1,675.4 L872.8,670.9 L870.5,666.5 L868.1,662.1 L865.6,657.8 L863.1,653.4 L860.5,649.2 L857.8,645.0 L854.9,640.9 L851.9,636.9 L848.7,633.1 L845.2,629.6 L841.4,626.4 L837.3,623.7 L832.9,621.4 L828.3,619.6 L823.5,618.3 L818.6,617.5 L813.7,617.2 L808.8,617.5 L803.9,618.2 L799.0,619.3 L794.4,620.8 L790.0,623.0 L785.9,625.7 L782.2,629.0 L778.8,632.6 L775.7,636.5 L772.9,640.6 L770.1,644.8 L767.6,649.1 L765.3,653.5 L763.1,658.0 L761.0,662.5 L758.9,667.1 L756.8,671.6 L754.8,676.2 L752.7,680.7 L750.7,685.3 L748.8,689.9 L747.0,694.6 L745.4,699.3 L743.9,704.1 L742.6,708.9 L741.4,713.8 L740.2,718.6 L739.2,723.5 L738.1,728.4 L737.1,733.3 L736.1,738.2 L735.0,743.1 L733.9,748.0 L732.6,752.8 L731.3,757.6 L729.9,762.4 L728.5,767.2 L727.0,772.0 L725.4,776.7 L723.6,781.4 L721.7,786.0 L719.4,790.3 L716.6,794.4 L713.4,798.1 L709.7,801.2 L705.6,803.3 L701.1,804.2 L696.5,803.8 L691.9,802.6 L687.1,801.2 L682.3,800.0 L677.4,799.1 L672.5,798.3 L667.5,797.8 L662.6,797.5 L657.6,797.6 L652.8,798.3 L648.3,799.9 L644.0,802.3 L640.1,805.2 L636.5,808.6 L633.1,812.2 L629.9,816.1 L627.0,820.1 L624.4,824.4 L621.9,828.7 L619.7,833.2 L617.6,837.7 L615.7,842.3 L613.9,847.0 L612.2,851.7 L610.6,856.4 L609.0,861.2 L607.5,866.0 L606.1,870.7 L604.8,875.6 L603.5,880.4 L602.3,885.2 L601.1,890.1 L600.0,895.0 L598.8,899.8 L597.7,904.7 L596.6,909.6 L595.4,914.5 L594.3,919.3 L593.1,924.2 L591.9,929.0 L590.7,933.9 L589.5,938.8 L588.3,943.6 L586.9,948.4 L585.6,953.2 L584.1,958.0 L582.6,962.8 L581.1,967.5 L579.4,972.3 L577.7,977.0 L576.0,981.6 L574.1,986.3 L572.2,990.9 L570.0,995.3 L567.3,999.5 L564.2,1003.0 L560.7,1005.5 L556.8,1006.4 L553.2,1005.2 L549.9,1002.4 L547.0,998.6 L544.2,994.5 L541.6,990.2 L539.0,986.0 L536.4,981.7 L533.7,977.5 L530.9,973.4 L527.9,969.3 L524.9,965.3 L521.9,961.4 L518.8,957.4 L515.8,953.4 L512.7,949.5 L509.7,945.5 L506.7,941.5 L503.7,937.4 L500.8,933.4 L497.8,929.4 L496.0,927.0 L496.0,922.0 L496.0,917.0 L496.0,912.0 L496.0,907.0 L496.1,902.0 L496.1,897.0 L496.0,892.0 L496.0,887.0 L496.0,882.0 L496.0,877.0 L496.0,872.0 L496.0,867.0 L496.0,862.0 L496.0,857.0 L496.0,852.0 L495.9,847.0 L495.9,842.0 L495.9,837.0 L495.9,832.0 L495.9,827.0 L495.9,822.0 L495.9,817.0 L495.9,812.0 L495.9,807.0 L495.9,802.0 L495.9,797.0 L495.9,792.0 L495.9,787.0 L495.9,782.0 L495.9,777.0 L495.9,772.0 L495.9,767.0 L496.0,762.0 L496.0,757.0 L496.0,752.0 L496.1,747.0 L496.1,742.0 L496.2,737.0 L496.3,732.0 L496.4,727.0 L496.5,722.0 L496.6,717.0 L496.7,712.0 L496.8,707.0 L497.0,702.0 L497.1,697.0 L497.3,692.0 L497.5,687.0 L497.7,682.0 L497.9,677.0 L498.1,672.0 L498.4,667.0 L498.6,662.0 L498.9,657.0 L499.2,652.0 L499.5,647.1 L499.8,642.1 L500.1,637.1 L500.4,632.1 L500.7,627.1 L501.1,622.1 L501.4,617.1 L501.7,612.1 L502.1,607.1 L502.4,602.1 L502.7,597.2 L503.1,592.2 L503.4,587.2 L503.7,582.2 L504.0,577.2 L504.3,572.2 L504.6,567.2 L504.9,562.2 L505.1,557.2 L505.4,552.2 L505.6,547.2 L505.9,542.2 L506.1,537.2 L506.3,532.3 L506.5,527.3 L506.7,522.3 L506.9,517.3 L507.2,512.3 L507.4,507.3 L507.6,502.3 L507.8,497.3 L508.0,492.3 L508.2,487.3 L508.4,482.3 L508.7,477.3 L508.9,472.3 L509.1,467.3 L509.4,462.3 L509.6,457.3 L509.9,452.3 L510.1,447.3 L510.4,442.3 L510.7,437.4 L511.1,432.4 L511.5,427.4 L512.0,422.4 L512.6,417.4 L513.2,412.5 L513.8,407.5 L514.5,402.6 L515.1,397.6 L515.8,392.6 L516.4,387.7 L517.1,382.7 L517.7,377.8 L518.4,372.8 L519.0,367.9 L519.7,362.9 L520.4,358.0 L521.1,353.0 L521.9,348.1 L522.7,343.1 L523.6,338.2 L524.4,333.3 L525.3,328.4 L526.2,323.4 L527.1,318.5 L528.1,313.6 L529.1,308.7 L530.1,303.8 L531.2,299.0 L532.4,294.1 L533.7,289.3 L535.0,284.4 L536.4,279.6 L537.9,274.9 L539.4,270.1 L540.9,265.3 L542.5,260.6 L544.1,255.9 L545.7,251.1 L547.3,246.4 L548.8,241.6 L550.4,236.9 L552.0,232.1 L553.6,227.4 L555.2,222.7 L556.9,218.0 L558.7,213.3 L560.5,208.6 L562.2,203.9 L563.8,199.2 L565.4,194.5 L567.0,189.7 L568.6,185.0 L570.3,180.3 L572.1,175.6 L574.0,171.0 L575.8,166.4 L577.7,161.7 L579.6,157.1 L581.4,152.4 L583.3,147.8 L585.2,143.2 L587.1,138.6 L589.2,134.0 L591.4,129.5 L593.8,125.2 L596.4,120.9 L599.3,117.0 L602.7,113.6 L606.6,111.2 L610.8,110.2 L614.9,110.9 L618.6,113.3 L621.6,116.8 L624.1,121.0 L626.1,125.5 L627.9,130.2 L629.7,134.9 L631.4,139.6 L633.0,144.3 L634.7,149.0 L636.3,153.7 L638.0,158.4 L639.6,163.2 L641.2,167.9 L642.7,172.7 L644.2,177.4 L645.7,182.2 L647.1,187.0 L648.6,191.8 L650.2,196.5 L652.0,201.1 L654.2,205.6 L656.7,209.8 L659.7,213.8 L663.2,217.3 L667.0,220.3 L671.2,222.7 L675.8,224.3 L680.6,225.2 L685.5,225.4 L690.5,225.2 L695.4,224.5 L700.2,223.3 L704.9,221.7 L709.2,219.5 L713.4,216.8 L717.3,213.8 L721.2,210.8 L725.4,208.4 L729.8,206.8 L734.4,206.5 L738.9,207.4 L742.8,209.7 L746.1,213.0 L748.7,217.1 L750.7,221.6 L752.3,226.3 L753.8,231.0 L755.2,235.8 L756.6,240.6 L757.9,245.5 L759.1,250.3 L760.3,255.2 L761.4,260.0 L762.6,264.9 L763.7,269.8 L764.8,274.7 L765.9,279.5 L767.0,284.4 L768.0,289.3 L769.0,294.2 L770.1,299.1 L771.1,304.0 L772.1,308.9 L773.2,313.8 L774.3,318.7 L775.4,323.5 L776.6,328.4 L777.8,333.2 L779.0,338.1 L780.3,342.9 L781.6,347.7 L783.0,352.5 L784.5,357.3 L786.0,362.1 L787.6,366.8 L789.2,371.6 L790.9,376.3 L792.5,381.0 L794.2,385.7 L795.9,390.4 L797.5,395.1 L799.2,399.8 L800.9,404.5 L802.7,409.2 L804.7,413.8 L806.8,418.3 L809.1,422.7 L811.6,427.1 L814.2,431.4 L816.9,435.5 L819.7,439.7 L822.7,443.7 L825.7,447.6 L828.9,451.5 L832.2,455.3 L835.6,458.9 L839.3,462.2 L843.2,465.2 L847.4,467.9 L851.8,470.2 L856.4,472.3 L860.9,474.3 L865.6,476.2 L870.2,477.9 L875.0,479.4 L879.8,480.7 L884.7,481.8 L889.6,482.7 L894.5,483.5 L899.5,484.1 L904.4,484.7 L909.4,485.1 L914.4,485.5 L919.4,485.8 L924.4,486.0 L929.4,486.1 L934.4,486.1 L939.4,486.1 L944.4,486.1 L949.4,486.0 L954.4,485.9 L959.4,485.7 L964.4,485.6 L969.4,485.4 L974.4,485.2 L979.4,485.0 L984.4,484.7 L989.4,484.4 L994.3,484.1 L999.3,483.7 L1004.3,483.4 L1009.3,483.0 L1014.3,482.6 L1019.3,482.2 L1024.3,481.8 L1029.2,481.4 L1034.2,480.9 L1039.2,480.4 L1044.2,479.9 L1049.1,479.4 L1054.1,478.9 L1059.1,478.4 L1064.1,477.8 L1069.0,477.3 L1074.0,476.8 L1077.0,476.5" fill="none" stroke="#000000" stroke-width="10" stroke-linejoin="round" stroke-linecap="butt"/>
<line x1="1285" y1="716.4" x2="1431" y2="716.4" stroke="#848484" stroke-width="11" stroke-linecap="round"/>
<text transform="translate(1462,746.9) scale(1,1.06)" class="lg">Bare MATFE</text>
<line x1="1285" y1="799.7" x2="1431" y2="799.7" stroke="#990088" stroke-width="11" stroke-linecap="round"/>
<text transform="translate(1462,830.2) scale(1,1.06)" class="lg">300 s Pt</text>
<line x1="1285" y1="878.2" x2="1431" y2="878.2" stroke="#ffff00" stroke-width="11" stroke-linecap="round"/>
<text transform="translate(1462,908.7) scale(1,1.06)" class="lg">300 s Pt/Pb</text>
<line x1="1285" y1="957.1" x2="1431" y2="957.1" stroke="#ff8000" stroke-width="11" stroke-linecap="round"/>
<text transform="translate(1462,987.6) scale(1,1.06)" class="lg">150 s Pt/Pb + 150 s Pt/Pb</text>
<line x1="1285" y1="1043.0" x2="1431" y2="1043.0" stroke="#ff0080" stroke-width="11" stroke-linecap="round"/>
<text transform="translate(1462,1073.5) scale(1,1.06)" class="lg">420 s Pt</text>
<line x1="1285" y1="1123.3" x2="1431" y2="1123.3" stroke="#00ff00" stroke-width="11" stroke-linecap="round"/>
<text transform="translate(1462,1153.8) scale(1,1.06)" class="lg">300 s Pt &#160;+ 120 s Pt</text>
<line x1="1285" y1="1204.5" x2="1431" y2="1204.5" stroke="#ff0000" stroke-width="11" stroke-linecap="round"/>
<text transform="translate(1462,1235.0) scale(1,1.06)" class="lg">420 s Pt/Pb</text>
<line x1="1285" y1="1290.0" x2="1431" y2="1290.0" stroke="#0000ff" stroke-width="11" stroke-linecap="round"/>
<text transform="translate(1462,1320.5) scale(1,1.06)" class="lg">300 s Pt + 120 s Pt/Pb</text>
<line x1="1285" y1="1373.0" x2="1431" y2="1373.0" stroke="#000000" stroke-width="11" stroke-linecap="round"/>
<text transform="translate(1462,1403.5) scale(1,1.06)" class="lg">300 s Pt/Pb + 120 s Pt/Pb</text>
<g class="an">
<text class="an" x="525" y="84.5">H region</text>
<text class="an" x="52" y="371.9">hydrogen</text>
<text class="an" x="52" y="449.9">evolution</text>
<text class="an" x="842" y="300.1">double</text>
<text class="an" x="842" y="377.5">layer</text>
<text class="an" x="843" y="453.1">region</text>
<text class="an" x="1313" y="180.9">oxide region</text>
<text class="an" x="2025" y="205.3">oxygen</text>
<text class="an" x="2025" y="283.5">evolution</text>
</g>
<g stroke="#0000ff" fill="#0000ff">
<line x1="323" y1="387" x2="484" y2="498.6" stroke-width="7"/>
<line x1="1080" y1="434" x2="1200" y2="434" stroke-width="8"/>
<path d="M1196,423 L1217,434 L1196,445 Z" stroke="none"/>
<line x1="779" y1="760" x2="716" y2="858" stroke-width="7"/>
<path d="M706,875 L709,850 L728,864 Z" stroke="none"/>
</g>
</g>
</svg>
</body></html>
